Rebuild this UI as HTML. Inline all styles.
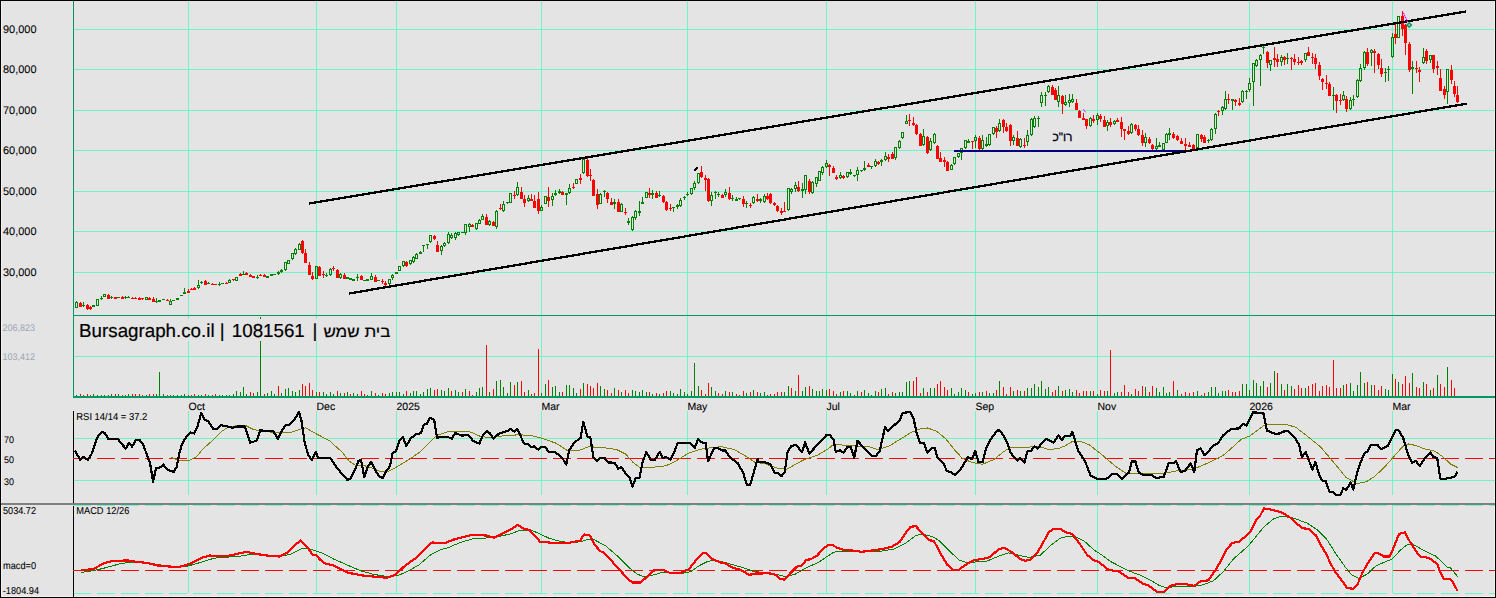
<!DOCTYPE html>
<html><head><meta charset="utf-8"><title>chart</title>
<style>html,body{margin:0;padding:0;background:#E4E4E4;overflow:hidden}body{width:1496px;height:598px;font-family:"Liberation Sans",sans-serif}</style>
</head><body>
<svg width="1496" height="598" viewBox="0 0 1496 598" shape-rendering="crispEdges" style="display:block;font-family:'Liberation Sans',sans-serif">
<rect x="0" y="0" width="1496" height="598" fill="#E4E4E4"/>
<rect x="1" y="1" width="1" height="596" fill="#F2F2F2"/>
<rect x="1494" y="1" width="1" height="596" fill="#F2F2F2"/>
<rect x="1" y="596" width="1494" height="1" fill="#F2F2F2"/>
<rect x="74" y="29" width="1421" height="1" fill="#6CF8C6"/>
<rect x="74" y="69" width="1421" height="1" fill="#6CF8C6"/>
<rect x="74" y="110" width="1421" height="1" fill="#6CF8C6"/>
<rect x="74" y="150" width="1421" height="1" fill="#6CF8C6"/>
<rect x="74" y="191" width="1421" height="1" fill="#6CF8C6"/>
<rect x="74" y="231" width="1421" height="1" fill="#6CF8C6"/>
<rect x="74" y="272" width="1421" height="1" fill="#6CF8C6"/>
<rect x="74" y="356" width="1421" height="1" fill="#6CF8C6"/>
<rect x="188" y="1" width="1" height="395" fill="#6CF8C6"/>
<rect x="188" y="411" width="1" height="84" fill="#6CF8C6"/>
<rect x="188" y="505" width="1" height="88" fill="#6CF8C6"/>
<rect x="316" y="1" width="1" height="395" fill="#6CF8C6"/>
<rect x="316" y="411" width="1" height="84" fill="#6CF8C6"/>
<rect x="316" y="505" width="1" height="88" fill="#6CF8C6"/>
<rect x="396" y="1" width="1" height="259" fill="#6CF8C6"/>
<rect x="396" y="285" width="1" height="111" fill="#6CF8C6"/>
<rect x="396" y="411" width="1" height="84" fill="#6CF8C6"/>
<rect x="396" y="505" width="1" height="88" fill="#6CF8C6"/>
<rect x="541" y="1" width="1" height="395" fill="#6CF8C6"/>
<rect x="541" y="411" width="1" height="84" fill="#6CF8C6"/>
<rect x="541" y="505" width="1" height="88" fill="#6CF8C6"/>
<rect x="687" y="1" width="1" height="395" fill="#6CF8C6"/>
<rect x="687" y="411" width="1" height="84" fill="#6CF8C6"/>
<rect x="687" y="505" width="1" height="88" fill="#6CF8C6"/>
<rect x="826" y="1" width="1" height="395" fill="#6CF8C6"/>
<rect x="826" y="411" width="1" height="84" fill="#6CF8C6"/>
<rect x="826" y="505" width="1" height="88" fill="#6CF8C6"/>
<rect x="975" y="1" width="1" height="395" fill="#6CF8C6"/>
<rect x="975" y="411" width="1" height="84" fill="#6CF8C6"/>
<rect x="975" y="505" width="1" height="88" fill="#6CF8C6"/>
<rect x="1097" y="1" width="1" height="395" fill="#6CF8C6"/>
<rect x="1097" y="411" width="1" height="84" fill="#6CF8C6"/>
<rect x="1097" y="505" width="1" height="88" fill="#6CF8C6"/>
<rect x="1249" y="1" width="1" height="77" fill="#6CF8C6"/>
<rect x="1249" y="103" width="1" height="293" fill="#6CF8C6"/>
<rect x="1249" y="411" width="1" height="84" fill="#6CF8C6"/>
<rect x="1249" y="505" width="1" height="88" fill="#6CF8C6"/>
<rect x="1392" y="1" width="1" height="395" fill="#6CF8C6"/>
<rect x="1392" y="411" width="1" height="84" fill="#6CF8C6"/>
<rect x="1392" y="505" width="1" height="88" fill="#6CF8C6"/>
<rect x="74" y="438" width="1421" height="1" fill="#6CF8C6"/>
<rect x="74" y="480" width="1421" height="1" fill="#6CF8C6"/>
<rect x="73" y="505" width="18" height="1" fill="#6CF8C6"/>
<rect x="97" y="505" width="18" height="1" fill="#6CF8C6"/>
<rect x="121" y="505" width="18" height="1" fill="#6CF8C6"/>
<rect x="145" y="505" width="18" height="1" fill="#6CF8C6"/>
<rect x="169" y="505" width="18" height="1" fill="#6CF8C6"/>
<rect x="193" y="505" width="18" height="1" fill="#6CF8C6"/>
<rect x="217" y="505" width="18" height="1" fill="#6CF8C6"/>
<rect x="241" y="505" width="18" height="1" fill="#6CF8C6"/>
<rect x="265" y="505" width="18" height="1" fill="#6CF8C6"/>
<rect x="289" y="505" width="18" height="1" fill="#6CF8C6"/>
<rect x="313" y="505" width="18" height="1" fill="#6CF8C6"/>
<rect x="337" y="505" width="18" height="1" fill="#6CF8C6"/>
<rect x="361" y="505" width="18" height="1" fill="#6CF8C6"/>
<rect x="385" y="505" width="18" height="1" fill="#6CF8C6"/>
<rect x="409" y="505" width="18" height="1" fill="#6CF8C6"/>
<rect x="433" y="505" width="18" height="1" fill="#6CF8C6"/>
<rect x="457" y="505" width="18" height="1" fill="#6CF8C6"/>
<rect x="481" y="505" width="18" height="1" fill="#6CF8C6"/>
<rect x="505" y="505" width="18" height="1" fill="#6CF8C6"/>
<rect x="529" y="505" width="18" height="1" fill="#6CF8C6"/>
<rect x="553" y="505" width="18" height="1" fill="#6CF8C6"/>
<rect x="577" y="505" width="18" height="1" fill="#6CF8C6"/>
<rect x="601" y="505" width="18" height="1" fill="#6CF8C6"/>
<rect x="625" y="505" width="18" height="1" fill="#6CF8C6"/>
<rect x="649" y="505" width="18" height="1" fill="#6CF8C6"/>
<rect x="673" y="505" width="18" height="1" fill="#6CF8C6"/>
<rect x="697" y="505" width="18" height="1" fill="#6CF8C6"/>
<rect x="721" y="505" width="18" height="1" fill="#6CF8C6"/>
<rect x="745" y="505" width="18" height="1" fill="#6CF8C6"/>
<rect x="769" y="505" width="18" height="1" fill="#6CF8C6"/>
<rect x="793" y="505" width="18" height="1" fill="#6CF8C6"/>
<rect x="817" y="505" width="18" height="1" fill="#6CF8C6"/>
<rect x="841" y="505" width="18" height="1" fill="#6CF8C6"/>
<rect x="865" y="505" width="18" height="1" fill="#6CF8C6"/>
<rect x="889" y="505" width="18" height="1" fill="#6CF8C6"/>
<rect x="913" y="505" width="18" height="1" fill="#6CF8C6"/>
<rect x="937" y="505" width="18" height="1" fill="#6CF8C6"/>
<rect x="961" y="505" width="18" height="1" fill="#6CF8C6"/>
<rect x="985" y="505" width="18" height="1" fill="#6CF8C6"/>
<rect x="1009" y="505" width="18" height="1" fill="#6CF8C6"/>
<rect x="1033" y="505" width="18" height="1" fill="#6CF8C6"/>
<rect x="1057" y="505" width="18" height="1" fill="#6CF8C6"/>
<rect x="1081" y="505" width="18" height="1" fill="#6CF8C6"/>
<rect x="1105" y="505" width="18" height="1" fill="#6CF8C6"/>
<rect x="1129" y="505" width="18" height="1" fill="#6CF8C6"/>
<rect x="1153" y="505" width="18" height="1" fill="#6CF8C6"/>
<rect x="1177" y="505" width="18" height="1" fill="#6CF8C6"/>
<rect x="1201" y="505" width="18" height="1" fill="#6CF8C6"/>
<rect x="1225" y="505" width="18" height="1" fill="#6CF8C6"/>
<rect x="1249" y="505" width="18" height="1" fill="#6CF8C6"/>
<rect x="1273" y="505" width="18" height="1" fill="#6CF8C6"/>
<rect x="1297" y="505" width="18" height="1" fill="#6CF8C6"/>
<rect x="1321" y="505" width="18" height="1" fill="#6CF8C6"/>
<rect x="1345" y="505" width="18" height="1" fill="#6CF8C6"/>
<rect x="1369" y="505" width="18" height="1" fill="#6CF8C6"/>
<rect x="1393" y="505" width="18" height="1" fill="#6CF8C6"/>
<rect x="1417" y="505" width="18" height="1" fill="#6CF8C6"/>
<rect x="1441" y="505" width="18" height="1" fill="#6CF8C6"/>
<rect x="1465" y="505" width="18" height="1" fill="#6CF8C6"/>
<rect x="1489" y="505" width="6" height="1" fill="#6CF8C6"/>
<rect x="73" y="593" width="18" height="1" fill="#6CF8C6"/>
<rect x="97" y="593" width="18" height="1" fill="#6CF8C6"/>
<rect x="121" y="593" width="18" height="1" fill="#6CF8C6"/>
<rect x="145" y="593" width="18" height="1" fill="#6CF8C6"/>
<rect x="169" y="593" width="18" height="1" fill="#6CF8C6"/>
<rect x="193" y="593" width="18" height="1" fill="#6CF8C6"/>
<rect x="217" y="593" width="18" height="1" fill="#6CF8C6"/>
<rect x="241" y="593" width="18" height="1" fill="#6CF8C6"/>
<rect x="265" y="593" width="18" height="1" fill="#6CF8C6"/>
<rect x="289" y="593" width="18" height="1" fill="#6CF8C6"/>
<rect x="313" y="593" width="18" height="1" fill="#6CF8C6"/>
<rect x="337" y="593" width="18" height="1" fill="#6CF8C6"/>
<rect x="361" y="593" width="18" height="1" fill="#6CF8C6"/>
<rect x="385" y="593" width="18" height="1" fill="#6CF8C6"/>
<rect x="409" y="593" width="18" height="1" fill="#6CF8C6"/>
<rect x="433" y="593" width="18" height="1" fill="#6CF8C6"/>
<rect x="457" y="593" width="18" height="1" fill="#6CF8C6"/>
<rect x="481" y="593" width="18" height="1" fill="#6CF8C6"/>
<rect x="505" y="593" width="18" height="1" fill="#6CF8C6"/>
<rect x="529" y="593" width="18" height="1" fill="#6CF8C6"/>
<rect x="553" y="593" width="18" height="1" fill="#6CF8C6"/>
<rect x="577" y="593" width="18" height="1" fill="#6CF8C6"/>
<rect x="601" y="593" width="18" height="1" fill="#6CF8C6"/>
<rect x="625" y="593" width="18" height="1" fill="#6CF8C6"/>
<rect x="649" y="593" width="18" height="1" fill="#6CF8C6"/>
<rect x="673" y="593" width="18" height="1" fill="#6CF8C6"/>
<rect x="697" y="593" width="18" height="1" fill="#6CF8C6"/>
<rect x="721" y="593" width="18" height="1" fill="#6CF8C6"/>
<rect x="745" y="593" width="18" height="1" fill="#6CF8C6"/>
<rect x="769" y="593" width="18" height="1" fill="#6CF8C6"/>
<rect x="793" y="593" width="18" height="1" fill="#6CF8C6"/>
<rect x="817" y="593" width="18" height="1" fill="#6CF8C6"/>
<rect x="841" y="593" width="18" height="1" fill="#6CF8C6"/>
<rect x="865" y="593" width="18" height="1" fill="#6CF8C6"/>
<rect x="889" y="593" width="18" height="1" fill="#6CF8C6"/>
<rect x="913" y="593" width="18" height="1" fill="#6CF8C6"/>
<rect x="937" y="593" width="18" height="1" fill="#6CF8C6"/>
<rect x="961" y="593" width="18" height="1" fill="#6CF8C6"/>
<rect x="985" y="593" width="18" height="1" fill="#6CF8C6"/>
<rect x="1009" y="593" width="18" height="1" fill="#6CF8C6"/>
<rect x="1033" y="593" width="18" height="1" fill="#6CF8C6"/>
<rect x="1057" y="593" width="18" height="1" fill="#6CF8C6"/>
<rect x="1081" y="593" width="18" height="1" fill="#6CF8C6"/>
<rect x="1105" y="593" width="18" height="1" fill="#6CF8C6"/>
<rect x="1129" y="593" width="18" height="1" fill="#6CF8C6"/>
<rect x="1153" y="593" width="18" height="1" fill="#6CF8C6"/>
<rect x="1177" y="593" width="18" height="1" fill="#6CF8C6"/>
<rect x="1201" y="593" width="18" height="1" fill="#6CF8C6"/>
<rect x="1225" y="593" width="18" height="1" fill="#6CF8C6"/>
<rect x="1249" y="593" width="18" height="1" fill="#6CF8C6"/>
<rect x="1273" y="593" width="18" height="1" fill="#6CF8C6"/>
<rect x="1297" y="593" width="18" height="1" fill="#6CF8C6"/>
<rect x="1321" y="593" width="18" height="1" fill="#6CF8C6"/>
<rect x="1345" y="593" width="18" height="1" fill="#6CF8C6"/>
<rect x="1369" y="593" width="18" height="1" fill="#6CF8C6"/>
<rect x="1393" y="593" width="18" height="1" fill="#6CF8C6"/>
<rect x="1417" y="593" width="18" height="1" fill="#6CF8C6"/>
<rect x="1441" y="593" width="18" height="1" fill="#6CF8C6"/>
<rect x="1465" y="593" width="18" height="1" fill="#6CF8C6"/>
<rect x="1489" y="593" width="6" height="1" fill="#6CF8C6"/>
<rect x="73" y="1" width="1" height="396" fill="#009966"/>
<rect x="73" y="315" width="1422" height="1" fill="#009966"/>
<rect x="73" y="396" width="1422" height="2" fill="#009966"/>
<rect x="1" y="503" width="1494" height="2" fill="#808080"/>
<rect x="73" y="411" width="1" height="92" fill="#000"/>
<rect x="73" y="506" width="1" height="91" fill="#000"/>
<rect x="75" y="319" width="317" height="22" fill="#E4E4E4"/>
<rect x="76" y="301" width="1" height="1" fill="#008000"/>
<rect x="75" y="302" width="1" height="6" fill="#008000"/>
<rect x="77" y="302" width="1" height="6" fill="#008000"/>
<rect x="76" y="302" width="1" height="1" fill="#008000"/>
<rect x="76" y="307" width="1" height="1" fill="#008000"/>
<rect x="80" y="302" width="1" height="1" fill="#FF0000"/>
<rect x="79" y="303" width="3" height="4" fill="#FF0000"/>
<rect x="83" y="302" width="1" height="3" fill="#008000"/>
<rect x="83" y="306" width="1" height="1" fill="#008000"/>
<rect x="82" y="305" width="3" height="1" fill="#008000"/>
<rect x="87" y="304" width="1" height="1" fill="#FF0000"/>
<rect x="87" y="309" width="1" height="1" fill="#FF0000"/>
<rect x="86" y="305" width="3" height="4" fill="#FF0000"/>
<rect x="90" y="306" width="1" height="1" fill="#FF0000"/>
<rect x="90" y="309" width="1" height="1" fill="#FF0000"/>
<rect x="89" y="307" width="3" height="2" fill="#FF0000"/>
<rect x="92" y="305" width="3" height="2" fill="#008000"/>
<rect x="96" y="299" width="1" height="7" fill="#008000"/>
<rect x="98" y="299" width="1" height="7" fill="#008000"/>
<rect x="97" y="299" width="1" height="1" fill="#008000"/>
<rect x="97" y="305" width="1" height="1" fill="#008000"/>
<rect x="101" y="296" width="1" height="2" fill="#008000"/>
<rect x="101" y="299" width="1" height="1" fill="#008000"/>
<rect x="100" y="298" width="3" height="1" fill="#008000"/>
<rect x="103" y="294" width="1" height="3" fill="#008000"/>
<rect x="105" y="294" width="1" height="3" fill="#008000"/>
<rect x="104" y="294" width="1" height="1" fill="#008000"/>
<rect x="104" y="296" width="1" height="1" fill="#008000"/>
<rect x="108" y="294" width="1" height="1" fill="#FF0000"/>
<rect x="107" y="295" width="3" height="4" fill="#FF0000"/>
<rect x="111" y="296" width="1" height="1" fill="#008000"/>
<rect x="111" y="298" width="1" height="1" fill="#008000"/>
<rect x="110" y="297" width="3" height="1" fill="#008000"/>
<rect x="114" y="297" width="3" height="2" fill="#FF0000"/>
<rect x="117" y="297" width="3" height="1" fill="#008000"/>
<rect x="122" y="296" width="1" height="1" fill="#FF0000"/>
<rect x="121" y="297" width="3" height="2" fill="#FF0000"/>
<rect x="125" y="296" width="1" height="1" fill="#008000"/>
<rect x="125" y="298" width="1" height="1" fill="#008000"/>
<rect x="124" y="297" width="3" height="1" fill="#008000"/>
<rect x="128" y="296" width="1" height="1" fill="#008000"/>
<rect x="127" y="297" width="3" height="1" fill="#008000"/>
<rect x="132" y="297" width="1" height="1" fill="#FF0000"/>
<rect x="131" y="298" width="3" height="1" fill="#FF0000"/>
<rect x="135" y="297" width="1" height="1" fill="#FF0000"/>
<rect x="134" y="298" width="3" height="1" fill="#FF0000"/>
<rect x="139" y="297" width="1" height="1" fill="#FF0000"/>
<rect x="138" y="298" width="3" height="2" fill="#FF0000"/>
<rect x="142" y="299" width="1" height="1" fill="#FF0000"/>
<rect x="141" y="298" width="3" height="1" fill="#FF0000"/>
<rect x="145" y="297" width="1" height="3" fill="#008000"/>
<rect x="147" y="297" width="1" height="3" fill="#008000"/>
<rect x="146" y="297" width="1" height="1" fill="#008000"/>
<rect x="146" y="299" width="1" height="1" fill="#008000"/>
<rect x="149" y="297" width="1" height="1" fill="#FF0000"/>
<rect x="148" y="298" width="3" height="2" fill="#FF0000"/>
<rect x="153" y="297" width="1" height="2" fill="#FF0000"/>
<rect x="152" y="299" width="3" height="3" fill="#FF0000"/>
<rect x="156" y="298" width="1" height="3" fill="#008000"/>
<rect x="156" y="302" width="1" height="1" fill="#008000"/>
<rect x="155" y="301" width="3" height="1" fill="#008000"/>
<rect x="158" y="300" width="3" height="2" fill="#008000"/>
<rect x="162" y="299" width="3" height="1" fill="#008000"/>
<rect x="167" y="299" width="1" height="1" fill="#FF0000"/>
<rect x="166" y="300" width="3" height="1" fill="#FF0000"/>
<rect x="170" y="299" width="1" height="2" fill="#008000"/>
<rect x="169" y="301" width="1" height="4" fill="#008000"/>
<rect x="171" y="301" width="1" height="4" fill="#008000"/>
<rect x="170" y="301" width="1" height="1" fill="#008000"/>
<rect x="170" y="304" width="1" height="1" fill="#008000"/>
<rect x="172" y="300" width="3" height="1" fill="#008000"/>
<rect x="176" y="298" width="3" height="2" fill="#008000"/>
<rect x="180" y="295" width="3" height="1" fill="#008000"/>
<rect x="184" y="288" width="1" height="4" fill="#008000"/>
<rect x="183" y="292" width="3" height="2" fill="#008000"/>
<rect x="188" y="289" width="1" height="2" fill="#FF0000"/>
<rect x="187" y="291" width="3" height="2" fill="#FF0000"/>
<rect x="191" y="288" width="1" height="1" fill="#FF0000"/>
<rect x="190" y="289" width="3" height="1" fill="#FF0000"/>
<rect x="194" y="287" width="1" height="1" fill="#FF0000"/>
<rect x="193" y="288" width="3" height="2" fill="#FF0000"/>
<rect x="198" y="280" width="1" height="5" fill="#008000"/>
<rect x="198" y="288" width="1" height="1" fill="#008000"/>
<rect x="197" y="285" width="1" height="3" fill="#008000"/>
<rect x="199" y="285" width="1" height="3" fill="#008000"/>
<rect x="198" y="285" width="1" height="1" fill="#008000"/>
<rect x="198" y="287" width="1" height="1" fill="#008000"/>
<rect x="201" y="281" width="1" height="1" fill="#008000"/>
<rect x="201" y="283" width="1" height="1" fill="#008000"/>
<rect x="200" y="282" width="3" height="1" fill="#008000"/>
<rect x="205" y="280" width="1" height="1" fill="#FF0000"/>
<rect x="204" y="281" width="3" height="4" fill="#FF0000"/>
<rect x="208" y="282" width="1" height="1" fill="#008000"/>
<rect x="207" y="283" width="3" height="1" fill="#008000"/>
<rect x="212" y="283" width="1" height="1" fill="#FF0000"/>
<rect x="211" y="284" width="3" height="1" fill="#FF0000"/>
<rect x="214" y="284" width="3" height="1" fill="#FF0000"/>
<rect x="219" y="282" width="1" height="2" fill="#008000"/>
<rect x="219" y="285" width="1" height="1" fill="#008000"/>
<rect x="218" y="284" width="3" height="1" fill="#008000"/>
<rect x="221" y="283" width="3" height="1" fill="#008000"/>
<rect x="226" y="282" width="1" height="1" fill="#FF0000"/>
<rect x="225" y="283" width="3" height="1" fill="#FF0000"/>
<rect x="229" y="279" width="1" height="1" fill="#008000"/>
<rect x="228" y="280" width="1" height="3" fill="#008000"/>
<rect x="230" y="280" width="1" height="3" fill="#008000"/>
<rect x="229" y="280" width="1" height="1" fill="#008000"/>
<rect x="229" y="282" width="1" height="1" fill="#008000"/>
<rect x="233" y="280" width="1" height="1" fill="#FF0000"/>
<rect x="232" y="279" width="3" height="1" fill="#FF0000"/>
<rect x="235" y="277" width="1" height="4" fill="#008000"/>
<rect x="237" y="277" width="1" height="4" fill="#008000"/>
<rect x="236" y="277" width="1" height="1" fill="#008000"/>
<rect x="236" y="280" width="1" height="1" fill="#008000"/>
<rect x="240" y="273" width="1" height="1" fill="#FF0000"/>
<rect x="239" y="274" width="3" height="2" fill="#FF0000"/>
<rect x="243" y="271" width="1" height="3" fill="#008000"/>
<rect x="242" y="274" width="3" height="1" fill="#008000"/>
<rect x="246" y="272" width="1" height="1" fill="#FF0000"/>
<rect x="245" y="273" width="3" height="2" fill="#FF0000"/>
<rect x="250" y="274" width="1" height="1" fill="#FF0000"/>
<rect x="249" y="275" width="3" height="2" fill="#FF0000"/>
<rect x="252" y="276" width="3" height="2" fill="#FF0000"/>
<rect x="257" y="275" width="1" height="2" fill="#008000"/>
<rect x="257" y="278" width="1" height="1" fill="#008000"/>
<rect x="256" y="277" width="3" height="1" fill="#008000"/>
<rect x="260" y="274" width="1" height="1" fill="#FF0000"/>
<rect x="259" y="275" width="3" height="1" fill="#FF0000"/>
<rect x="264" y="274" width="1" height="1" fill="#FF0000"/>
<rect x="263" y="275" width="3" height="2" fill="#FF0000"/>
<rect x="266" y="276" width="3" height="2" fill="#008000"/>
<rect x="270" y="274" width="3" height="2" fill="#008000"/>
<rect x="273" y="274" width="3" height="1" fill="#008000"/>
<rect x="278" y="271" width="1" height="1" fill="#008000"/>
<rect x="278" y="274" width="1" height="1" fill="#008000"/>
<rect x="277" y="272" width="3" height="2" fill="#008000"/>
<rect x="281" y="269" width="1" height="1" fill="#008000"/>
<rect x="281" y="272" width="1" height="1" fill="#008000"/>
<rect x="280" y="270" width="3" height="2" fill="#008000"/>
<rect x="285" y="270" width="1" height="1" fill="#008000"/>
<rect x="284" y="262" width="1" height="8" fill="#008000"/>
<rect x="286" y="262" width="1" height="8" fill="#008000"/>
<rect x="285" y="262" width="1" height="1" fill="#008000"/>
<rect x="285" y="269" width="1" height="1" fill="#008000"/>
<rect x="287" y="260" width="1" height="4" fill="#008000"/>
<rect x="289" y="260" width="1" height="4" fill="#008000"/>
<rect x="288" y="260" width="1" height="1" fill="#008000"/>
<rect x="288" y="263" width="1" height="1" fill="#008000"/>
<rect x="292" y="259" width="1" height="1" fill="#008000"/>
<rect x="291" y="253" width="1" height="6" fill="#008000"/>
<rect x="293" y="253" width="1" height="6" fill="#008000"/>
<rect x="292" y="253" width="1" height="1" fill="#008000"/>
<rect x="292" y="258" width="1" height="1" fill="#008000"/>
<rect x="295" y="248" width="1" height="1" fill="#008000"/>
<rect x="295" y="254" width="1" height="1" fill="#008000"/>
<rect x="294" y="249" width="1" height="5" fill="#008000"/>
<rect x="296" y="249" width="1" height="5" fill="#008000"/>
<rect x="295" y="249" width="1" height="1" fill="#008000"/>
<rect x="295" y="253" width="1" height="1" fill="#008000"/>
<rect x="299" y="243" width="1" height="1" fill="#008000"/>
<rect x="298" y="244" width="1" height="6" fill="#008000"/>
<rect x="300" y="244" width="1" height="6" fill="#008000"/>
<rect x="299" y="244" width="1" height="1" fill="#008000"/>
<rect x="299" y="249" width="1" height="1" fill="#008000"/>
<rect x="302" y="240" width="1" height="1" fill="#FF0000"/>
<rect x="302" y="253" width="1" height="1" fill="#FF0000"/>
<rect x="301" y="241" width="3" height="12" fill="#FF0000"/>
<rect x="305" y="249" width="1" height="4" fill="#FF0000"/>
<rect x="304" y="253" width="3" height="10" fill="#FF0000"/>
<rect x="309" y="262" width="1" height="3" fill="#FF0000"/>
<rect x="308" y="265" width="3" height="10" fill="#FF0000"/>
<rect x="312" y="272" width="1" height="4" fill="#FF0000"/>
<rect x="312" y="279" width="1" height="1" fill="#FF0000"/>
<rect x="311" y="276" width="3" height="3" fill="#FF0000"/>
<rect x="315" y="266" width="1" height="13" fill="#008000"/>
<rect x="317" y="266" width="1" height="13" fill="#008000"/>
<rect x="316" y="266" width="1" height="1" fill="#008000"/>
<rect x="316" y="278" width="1" height="1" fill="#008000"/>
<rect x="319" y="266" width="1" height="1" fill="#FF0000"/>
<rect x="318" y="267" width="3" height="9" fill="#FF0000"/>
<rect x="323" y="271" width="1" height="3" fill="#FF0000"/>
<rect x="323" y="275" width="1" height="3" fill="#FF0000"/>
<rect x="322" y="274" width="3" height="1" fill="#FF0000"/>
<rect x="326" y="273" width="1" height="2" fill="#008000"/>
<rect x="326" y="276" width="1" height="1" fill="#008000"/>
<rect x="325" y="275" width="3" height="1" fill="#008000"/>
<rect x="330" y="268" width="1" height="1" fill="#008000"/>
<rect x="330" y="275" width="1" height="1" fill="#008000"/>
<rect x="329" y="269" width="1" height="6" fill="#008000"/>
<rect x="331" y="269" width="1" height="6" fill="#008000"/>
<rect x="330" y="269" width="1" height="1" fill="#008000"/>
<rect x="330" y="274" width="1" height="1" fill="#008000"/>
<rect x="333" y="266" width="1" height="2" fill="#FF0000"/>
<rect x="333" y="269" width="1" height="2" fill="#FF0000"/>
<rect x="332" y="268" width="3" height="1" fill="#FF0000"/>
<rect x="337" y="269" width="1" height="1" fill="#FF0000"/>
<rect x="336" y="270" width="3" height="8" fill="#FF0000"/>
<rect x="340" y="273" width="1" height="1" fill="#008000"/>
<rect x="340" y="278" width="1" height="1" fill="#008000"/>
<rect x="339" y="274" width="1" height="4" fill="#008000"/>
<rect x="341" y="274" width="1" height="4" fill="#008000"/>
<rect x="340" y="274" width="1" height="1" fill="#008000"/>
<rect x="340" y="277" width="1" height="1" fill="#008000"/>
<rect x="344" y="273" width="1" height="2" fill="#FF0000"/>
<rect x="343" y="275" width="3" height="4" fill="#FF0000"/>
<rect x="346" y="277" width="3" height="2" fill="#008000"/>
<rect x="349" y="278" width="3" height="2" fill="#008000"/>
<rect x="352" y="279" width="3" height="2" fill="#008000"/>
<rect x="357" y="274" width="1" height="3" fill="#008000"/>
<rect x="357" y="278" width="1" height="3" fill="#008000"/>
<rect x="356" y="277" width="3" height="1" fill="#008000"/>
<rect x="361" y="275" width="1" height="1" fill="#FF0000"/>
<rect x="360" y="276" width="3" height="4" fill="#FF0000"/>
<rect x="363" y="280" width="3" height="1" fill="#008000"/>
<rect x="366" y="279" width="3" height="2" fill="#008000"/>
<rect x="371" y="273" width="1" height="3" fill="#008000"/>
<rect x="370" y="276" width="1" height="4" fill="#008000"/>
<rect x="372" y="276" width="1" height="4" fill="#008000"/>
<rect x="371" y="276" width="1" height="1" fill="#008000"/>
<rect x="371" y="279" width="1" height="1" fill="#008000"/>
<rect x="375" y="275" width="1" height="2" fill="#FF0000"/>
<rect x="374" y="277" width="3" height="5" fill="#FF0000"/>
<rect x="377" y="280" width="3" height="1" fill="#008000"/>
<rect x="382" y="279" width="1" height="2" fill="#FF0000"/>
<rect x="382" y="282" width="1" height="2" fill="#FF0000"/>
<rect x="381" y="281" width="3" height="1" fill="#FF0000"/>
<rect x="385" y="281" width="1" height="2" fill="#FF0000"/>
<rect x="385" y="285" width="1" height="1" fill="#FF0000"/>
<rect x="384" y="283" width="3" height="2" fill="#FF0000"/>
<rect x="389" y="284" width="1" height="1" fill="#008000"/>
<rect x="388" y="279" width="1" height="5" fill="#008000"/>
<rect x="390" y="279" width="1" height="5" fill="#008000"/>
<rect x="389" y="279" width="1" height="1" fill="#008000"/>
<rect x="389" y="283" width="1" height="1" fill="#008000"/>
<rect x="392" y="274" width="1" height="1" fill="#008000"/>
<rect x="392" y="278" width="1" height="2" fill="#008000"/>
<rect x="391" y="275" width="1" height="3" fill="#008000"/>
<rect x="393" y="275" width="1" height="3" fill="#008000"/>
<rect x="392" y="275" width="1" height="1" fill="#008000"/>
<rect x="392" y="277" width="1" height="1" fill="#008000"/>
<rect x="395" y="272" width="3" height="2" fill="#008000"/>
<rect x="398" y="266" width="1" height="5" fill="#008000"/>
<rect x="400" y="266" width="1" height="5" fill="#008000"/>
<rect x="399" y="266" width="1" height="1" fill="#008000"/>
<rect x="399" y="270" width="1" height="1" fill="#008000"/>
<rect x="403" y="266" width="1" height="1" fill="#008000"/>
<rect x="402" y="261" width="1" height="5" fill="#008000"/>
<rect x="404" y="261" width="1" height="5" fill="#008000"/>
<rect x="403" y="261" width="1" height="1" fill="#008000"/>
<rect x="403" y="265" width="1" height="1" fill="#008000"/>
<rect x="406" y="261" width="1" height="1" fill="#FF0000"/>
<rect x="406" y="266" width="1" height="1" fill="#FF0000"/>
<rect x="405" y="262" width="3" height="4" fill="#FF0000"/>
<rect x="410" y="264" width="1" height="1" fill="#008000"/>
<rect x="409" y="260" width="1" height="4" fill="#008000"/>
<rect x="411" y="260" width="1" height="4" fill="#008000"/>
<rect x="410" y="260" width="1" height="1" fill="#008000"/>
<rect x="410" y="263" width="1" height="1" fill="#008000"/>
<rect x="413" y="256" width="1" height="1" fill="#008000"/>
<rect x="413" y="262" width="1" height="1" fill="#008000"/>
<rect x="412" y="257" width="1" height="5" fill="#008000"/>
<rect x="414" y="257" width="1" height="5" fill="#008000"/>
<rect x="413" y="257" width="1" height="1" fill="#008000"/>
<rect x="413" y="261" width="1" height="1" fill="#008000"/>
<rect x="416" y="253" width="1" height="1" fill="#008000"/>
<rect x="415" y="254" width="1" height="5" fill="#008000"/>
<rect x="417" y="254" width="1" height="5" fill="#008000"/>
<rect x="416" y="254" width="1" height="1" fill="#008000"/>
<rect x="416" y="258" width="1" height="1" fill="#008000"/>
<rect x="420" y="251" width="1" height="1" fill="#008000"/>
<rect x="419" y="252" width="3" height="2" fill="#008000"/>
<rect x="423" y="246" width="1" height="6" fill="#008000"/>
<rect x="422" y="245" width="3" height="1" fill="#008000"/>
<rect x="427" y="245" width="1" height="4" fill="#008000"/>
<rect x="426" y="244" width="3" height="1" fill="#008000"/>
<rect x="430" y="242" width="1" height="1" fill="#008000"/>
<rect x="429" y="235" width="1" height="7" fill="#008000"/>
<rect x="431" y="235" width="1" height="7" fill="#008000"/>
<rect x="430" y="235" width="1" height="1" fill="#008000"/>
<rect x="430" y="241" width="1" height="1" fill="#008000"/>
<rect x="434" y="235" width="1" height="1" fill="#FF0000"/>
<rect x="434" y="239" width="1" height="1" fill="#FF0000"/>
<rect x="433" y="236" width="3" height="3" fill="#FF0000"/>
<rect x="437" y="241" width="1" height="4" fill="#FF0000"/>
<rect x="436" y="245" width="3" height="7" fill="#FF0000"/>
<rect x="441" y="245" width="1" height="1" fill="#008000"/>
<rect x="441" y="251" width="1" height="4" fill="#008000"/>
<rect x="440" y="246" width="1" height="5" fill="#008000"/>
<rect x="442" y="246" width="1" height="5" fill="#008000"/>
<rect x="441" y="246" width="1" height="1" fill="#008000"/>
<rect x="441" y="250" width="1" height="1" fill="#008000"/>
<rect x="444" y="242" width="1" height="1" fill="#008000"/>
<rect x="444" y="246" width="1" height="1" fill="#008000"/>
<rect x="443" y="243" width="1" height="3" fill="#008000"/>
<rect x="445" y="243" width="1" height="3" fill="#008000"/>
<rect x="444" y="243" width="1" height="1" fill="#008000"/>
<rect x="444" y="245" width="1" height="1" fill="#008000"/>
<rect x="448" y="232" width="1" height="2" fill="#008000"/>
<rect x="448" y="243" width="1" height="1" fill="#008000"/>
<rect x="447" y="234" width="1" height="9" fill="#008000"/>
<rect x="449" y="234" width="1" height="9" fill="#008000"/>
<rect x="448" y="234" width="1" height="1" fill="#008000"/>
<rect x="448" y="242" width="1" height="1" fill="#008000"/>
<rect x="451" y="233" width="1" height="2" fill="#008000"/>
<rect x="451" y="238" width="1" height="1" fill="#008000"/>
<rect x="450" y="235" width="1" height="3" fill="#008000"/>
<rect x="452" y="235" width="1" height="3" fill="#008000"/>
<rect x="451" y="235" width="1" height="1" fill="#008000"/>
<rect x="451" y="237" width="1" height="1" fill="#008000"/>
<rect x="455" y="232" width="1" height="1" fill="#008000"/>
<rect x="455" y="238" width="1" height="2" fill="#008000"/>
<rect x="454" y="233" width="1" height="5" fill="#008000"/>
<rect x="456" y="233" width="1" height="5" fill="#008000"/>
<rect x="455" y="233" width="1" height="1" fill="#008000"/>
<rect x="455" y="237" width="1" height="1" fill="#008000"/>
<rect x="458" y="235" width="1" height="1" fill="#008000"/>
<rect x="457" y="232" width="1" height="3" fill="#008000"/>
<rect x="459" y="232" width="1" height="3" fill="#008000"/>
<rect x="458" y="232" width="1" height="1" fill="#008000"/>
<rect x="458" y="234" width="1" height="1" fill="#008000"/>
<rect x="461" y="232" width="3" height="1" fill="#008000"/>
<rect x="465" y="233" width="1" height="2" fill="#008000"/>
<rect x="464" y="224" width="1" height="9" fill="#008000"/>
<rect x="466" y="224" width="1" height="9" fill="#008000"/>
<rect x="465" y="224" width="1" height="1" fill="#008000"/>
<rect x="465" y="232" width="1" height="1" fill="#008000"/>
<rect x="469" y="223" width="1" height="1" fill="#008000"/>
<rect x="469" y="227" width="1" height="5" fill="#008000"/>
<rect x="468" y="224" width="1" height="3" fill="#008000"/>
<rect x="470" y="224" width="1" height="3" fill="#008000"/>
<rect x="469" y="224" width="1" height="1" fill="#008000"/>
<rect x="469" y="226" width="1" height="1" fill="#008000"/>
<rect x="472" y="224" width="1" height="1" fill="#FF0000"/>
<rect x="471" y="225" width="3" height="2" fill="#FF0000"/>
<rect x="476" y="229" width="1" height="1" fill="#008000"/>
<rect x="475" y="223" width="1" height="6" fill="#008000"/>
<rect x="477" y="223" width="1" height="6" fill="#008000"/>
<rect x="476" y="223" width="1" height="1" fill="#008000"/>
<rect x="476" y="228" width="1" height="1" fill="#008000"/>
<rect x="479" y="219" width="1" height="1" fill="#008000"/>
<rect x="478" y="220" width="1" height="4" fill="#008000"/>
<rect x="480" y="220" width="1" height="4" fill="#008000"/>
<rect x="479" y="220" width="1" height="1" fill="#008000"/>
<rect x="479" y="223" width="1" height="1" fill="#008000"/>
<rect x="482" y="214" width="1" height="2" fill="#008000"/>
<rect x="481" y="216" width="1" height="4" fill="#008000"/>
<rect x="483" y="216" width="1" height="4" fill="#008000"/>
<rect x="482" y="216" width="1" height="1" fill="#008000"/>
<rect x="482" y="219" width="1" height="1" fill="#008000"/>
<rect x="486" y="214" width="1" height="3" fill="#FF0000"/>
<rect x="485" y="217" width="3" height="8" fill="#FF0000"/>
<rect x="489" y="220" width="1" height="1" fill="#008000"/>
<rect x="489" y="225" width="1" height="1" fill="#008000"/>
<rect x="488" y="221" width="1" height="4" fill="#008000"/>
<rect x="490" y="221" width="1" height="4" fill="#008000"/>
<rect x="489" y="221" width="1" height="1" fill="#008000"/>
<rect x="489" y="224" width="1" height="1" fill="#008000"/>
<rect x="493" y="221" width="1" height="1" fill="#FF0000"/>
<rect x="492" y="222" width="3" height="4" fill="#FF0000"/>
<rect x="496" y="210" width="1" height="1" fill="#008000"/>
<rect x="496" y="227" width="1" height="2" fill="#008000"/>
<rect x="495" y="211" width="1" height="16" fill="#008000"/>
<rect x="497" y="211" width="1" height="16" fill="#008000"/>
<rect x="496" y="211" width="1" height="1" fill="#008000"/>
<rect x="496" y="226" width="1" height="1" fill="#008000"/>
<rect x="500" y="204" width="1" height="4" fill="#FF0000"/>
<rect x="500" y="209" width="1" height="1" fill="#FF0000"/>
<rect x="499" y="208" width="3" height="1" fill="#FF0000"/>
<rect x="503" y="201" width="1" height="3" fill="#008000"/>
<rect x="503" y="211" width="1" height="1" fill="#008000"/>
<rect x="502" y="204" width="1" height="7" fill="#008000"/>
<rect x="504" y="204" width="1" height="7" fill="#008000"/>
<rect x="503" y="204" width="1" height="1" fill="#008000"/>
<rect x="503" y="210" width="1" height="1" fill="#008000"/>
<rect x="507" y="203" width="1" height="1" fill="#008000"/>
<rect x="506" y="202" width="3" height="1" fill="#008000"/>
<rect x="509" y="193" width="1" height="10" fill="#008000"/>
<rect x="511" y="193" width="1" height="10" fill="#008000"/>
<rect x="510" y="193" width="1" height="1" fill="#008000"/>
<rect x="510" y="202" width="1" height="1" fill="#008000"/>
<rect x="514" y="191" width="1" height="4" fill="#FF0000"/>
<rect x="514" y="196" width="1" height="3" fill="#FF0000"/>
<rect x="513" y="195" width="3" height="1" fill="#FF0000"/>
<rect x="517" y="182" width="1" height="5" fill="#008000"/>
<rect x="517" y="195" width="1" height="1" fill="#008000"/>
<rect x="516" y="187" width="1" height="8" fill="#008000"/>
<rect x="518" y="187" width="1" height="8" fill="#008000"/>
<rect x="517" y="187" width="1" height="1" fill="#008000"/>
<rect x="517" y="194" width="1" height="1" fill="#008000"/>
<rect x="521" y="187" width="1" height="5" fill="#FF0000"/>
<rect x="520" y="192" width="3" height="7" fill="#FF0000"/>
<rect x="524" y="195" width="1" height="4" fill="#FF0000"/>
<rect x="524" y="203" width="1" height="4" fill="#FF0000"/>
<rect x="523" y="199" width="3" height="4" fill="#FF0000"/>
<rect x="528" y="195" width="1" height="3" fill="#008000"/>
<rect x="528" y="201" width="1" height="1" fill="#008000"/>
<rect x="527" y="198" width="1" height="3" fill="#008000"/>
<rect x="529" y="198" width="1" height="3" fill="#008000"/>
<rect x="528" y="198" width="1" height="1" fill="#008000"/>
<rect x="528" y="200" width="1" height="1" fill="#008000"/>
<rect x="531" y="194" width="1" height="5" fill="#FF0000"/>
<rect x="530" y="199" width="3" height="2" fill="#FF0000"/>
<rect x="534" y="195" width="1" height="6" fill="#FF0000"/>
<rect x="533" y="201" width="3" height="7" fill="#FF0000"/>
<rect x="538" y="192" width="1" height="7" fill="#FF0000"/>
<rect x="538" y="211" width="1" height="3" fill="#FF0000"/>
<rect x="537" y="199" width="3" height="12" fill="#FF0000"/>
<rect x="541" y="205" width="1" height="2" fill="#008000"/>
<rect x="540" y="207" width="1" height="4" fill="#008000"/>
<rect x="542" y="207" width="1" height="4" fill="#008000"/>
<rect x="541" y="207" width="1" height="1" fill="#008000"/>
<rect x="541" y="210" width="1" height="1" fill="#008000"/>
<rect x="544" y="196" width="1" height="8" fill="#008000"/>
<rect x="546" y="196" width="1" height="8" fill="#008000"/>
<rect x="545" y="196" width="1" height="1" fill="#008000"/>
<rect x="545" y="203" width="1" height="1" fill="#008000"/>
<rect x="548" y="187" width="1" height="10" fill="#FF0000"/>
<rect x="548" y="201" width="1" height="6" fill="#FF0000"/>
<rect x="547" y="197" width="3" height="4" fill="#FF0000"/>
<rect x="552" y="193" width="1" height="3" fill="#008000"/>
<rect x="552" y="200" width="1" height="6" fill="#008000"/>
<rect x="551" y="196" width="1" height="4" fill="#008000"/>
<rect x="553" y="196" width="1" height="4" fill="#008000"/>
<rect x="552" y="196" width="1" height="1" fill="#008000"/>
<rect x="552" y="199" width="1" height="1" fill="#008000"/>
<rect x="555" y="190" width="1" height="3" fill="#008000"/>
<rect x="555" y="195" width="1" height="1" fill="#008000"/>
<rect x="554" y="193" width="3" height="2" fill="#008000"/>
<rect x="559" y="189" width="1" height="2" fill="#008000"/>
<rect x="559" y="193" width="1" height="1" fill="#008000"/>
<rect x="558" y="191" width="3" height="2" fill="#008000"/>
<rect x="562" y="191" width="1" height="1" fill="#FF0000"/>
<rect x="561" y="192" width="3" height="3" fill="#FF0000"/>
<rect x="566" y="195" width="1" height="10" fill="#008000"/>
<rect x="565" y="193" width="3" height="2" fill="#008000"/>
<rect x="569" y="184" width="1" height="4" fill="#008000"/>
<rect x="569" y="193" width="1" height="1" fill="#008000"/>
<rect x="568" y="188" width="1" height="5" fill="#008000"/>
<rect x="570" y="188" width="1" height="5" fill="#008000"/>
<rect x="569" y="188" width="1" height="1" fill="#008000"/>
<rect x="569" y="192" width="1" height="1" fill="#008000"/>
<rect x="573" y="183" width="1" height="4" fill="#FF0000"/>
<rect x="573" y="188" width="1" height="1" fill="#FF0000"/>
<rect x="572" y="187" width="3" height="1" fill="#FF0000"/>
<rect x="575" y="179" width="1" height="5" fill="#008000"/>
<rect x="577" y="179" width="1" height="5" fill="#008000"/>
<rect x="576" y="179" width="1" height="1" fill="#008000"/>
<rect x="576" y="183" width="1" height="1" fill="#008000"/>
<rect x="580" y="174" width="1" height="4" fill="#FF0000"/>
<rect x="580" y="180" width="1" height="4" fill="#FF0000"/>
<rect x="579" y="178" width="3" height="2" fill="#FF0000"/>
<rect x="583" y="173" width="1" height="1" fill="#008000"/>
<rect x="582" y="159" width="1" height="14" fill="#008000"/>
<rect x="584" y="159" width="1" height="14" fill="#008000"/>
<rect x="583" y="159" width="1" height="1" fill="#008000"/>
<rect x="583" y="172" width="1" height="1" fill="#008000"/>
<rect x="587" y="158" width="1" height="2" fill="#FF0000"/>
<rect x="587" y="176" width="1" height="1" fill="#FF0000"/>
<rect x="586" y="160" width="3" height="16" fill="#FF0000"/>
<rect x="590" y="169" width="1" height="6" fill="#FF0000"/>
<rect x="590" y="176" width="1" height="5" fill="#FF0000"/>
<rect x="589" y="175" width="3" height="1" fill="#FF0000"/>
<rect x="593" y="179" width="1" height="1" fill="#FF0000"/>
<rect x="592" y="180" width="3" height="16" fill="#FF0000"/>
<rect x="597" y="189" width="1" height="5" fill="#FF0000"/>
<rect x="597" y="205" width="1" height="4" fill="#FF0000"/>
<rect x="596" y="194" width="3" height="11" fill="#FF0000"/>
<rect x="600" y="193" width="1" height="1" fill="#008000"/>
<rect x="599" y="194" width="1" height="10" fill="#008000"/>
<rect x="601" y="194" width="1" height="10" fill="#008000"/>
<rect x="600" y="194" width="1" height="1" fill="#008000"/>
<rect x="600" y="203" width="1" height="1" fill="#008000"/>
<rect x="604" y="190" width="1" height="1" fill="#008000"/>
<rect x="604" y="192" width="1" height="5" fill="#008000"/>
<rect x="603" y="191" width="3" height="1" fill="#008000"/>
<rect x="607" y="192" width="1" height="1" fill="#FF0000"/>
<rect x="607" y="199" width="1" height="4" fill="#FF0000"/>
<rect x="606" y="193" width="3" height="6" fill="#FF0000"/>
<rect x="611" y="198" width="1" height="4" fill="#FF0000"/>
<rect x="610" y="202" width="3" height="3" fill="#FF0000"/>
<rect x="614" y="199" width="1" height="3" fill="#008000"/>
<rect x="614" y="204" width="1" height="5" fill="#008000"/>
<rect x="613" y="202" width="3" height="2" fill="#008000"/>
<rect x="618" y="199" width="1" height="3" fill="#FF0000"/>
<rect x="617" y="202" width="3" height="10" fill="#FF0000"/>
<rect x="621" y="203" width="1" height="1" fill="#008000"/>
<rect x="620" y="204" width="1" height="8" fill="#008000"/>
<rect x="622" y="204" width="1" height="8" fill="#008000"/>
<rect x="621" y="204" width="1" height="1" fill="#008000"/>
<rect x="621" y="211" width="1" height="1" fill="#008000"/>
<rect x="625" y="208" width="1" height="4" fill="#FF0000"/>
<rect x="625" y="213" width="1" height="2" fill="#FF0000"/>
<rect x="624" y="212" width="3" height="1" fill="#FF0000"/>
<rect x="628" y="218" width="1" height="3" fill="#008000"/>
<rect x="628" y="223" width="1" height="2" fill="#008000"/>
<rect x="627" y="221" width="3" height="2" fill="#008000"/>
<rect x="632" y="216" width="1" height="1" fill="#008000"/>
<rect x="632" y="230" width="1" height="1" fill="#008000"/>
<rect x="631" y="217" width="1" height="13" fill="#008000"/>
<rect x="633" y="217" width="1" height="13" fill="#008000"/>
<rect x="632" y="217" width="1" height="1" fill="#008000"/>
<rect x="632" y="229" width="1" height="1" fill="#008000"/>
<rect x="635" y="210" width="1" height="1" fill="#008000"/>
<rect x="635" y="218" width="1" height="2" fill="#008000"/>
<rect x="634" y="211" width="1" height="7" fill="#008000"/>
<rect x="636" y="211" width="1" height="7" fill="#008000"/>
<rect x="635" y="211" width="1" height="1" fill="#008000"/>
<rect x="635" y="217" width="1" height="1" fill="#008000"/>
<rect x="639" y="201" width="1" height="10" fill="#008000"/>
<rect x="639" y="213" width="1" height="3" fill="#008000"/>
<rect x="638" y="211" width="3" height="2" fill="#008000"/>
<rect x="642" y="197" width="1" height="5" fill="#008000"/>
<rect x="641" y="202" width="3" height="2" fill="#008000"/>
<rect x="645" y="192" width="1" height="6" fill="#008000"/>
<rect x="647" y="192" width="1" height="6" fill="#008000"/>
<rect x="646" y="192" width="1" height="1" fill="#008000"/>
<rect x="646" y="197" width="1" height="1" fill="#008000"/>
<rect x="649" y="188" width="1" height="5" fill="#FF0000"/>
<rect x="649" y="195" width="1" height="3" fill="#FF0000"/>
<rect x="648" y="193" width="3" height="2" fill="#FF0000"/>
<rect x="652" y="190" width="1" height="3" fill="#008000"/>
<rect x="652" y="195" width="1" height="4" fill="#008000"/>
<rect x="651" y="193" width="3" height="2" fill="#008000"/>
<rect x="656" y="191" width="1" height="2" fill="#FF0000"/>
<rect x="655" y="193" width="3" height="5" fill="#FF0000"/>
<rect x="659" y="191" width="1" height="4" fill="#008000"/>
<rect x="659" y="196" width="1" height="1" fill="#008000"/>
<rect x="658" y="195" width="3" height="1" fill="#008000"/>
<rect x="663" y="195" width="1" height="1" fill="#FF0000"/>
<rect x="663" y="202" width="1" height="1" fill="#FF0000"/>
<rect x="662" y="196" width="3" height="6" fill="#FF0000"/>
<rect x="666" y="201" width="1" height="1" fill="#FF0000"/>
<rect x="666" y="210" width="1" height="1" fill="#FF0000"/>
<rect x="665" y="202" width="3" height="8" fill="#FF0000"/>
<rect x="670" y="204" width="1" height="4" fill="#FF0000"/>
<rect x="670" y="209" width="1" height="2" fill="#FF0000"/>
<rect x="669" y="208" width="3" height="1" fill="#FF0000"/>
<rect x="673" y="208" width="1" height="4" fill="#008000"/>
<rect x="672" y="207" width="3" height="1" fill="#008000"/>
<rect x="677" y="204" width="1" height="1" fill="#008000"/>
<rect x="677" y="207" width="1" height="2" fill="#008000"/>
<rect x="676" y="205" width="3" height="2" fill="#008000"/>
<rect x="680" y="198" width="1" height="2" fill="#008000"/>
<rect x="680" y="206" width="1" height="1" fill="#008000"/>
<rect x="679" y="200" width="1" height="6" fill="#008000"/>
<rect x="681" y="200" width="1" height="6" fill="#008000"/>
<rect x="680" y="200" width="1" height="1" fill="#008000"/>
<rect x="680" y="205" width="1" height="1" fill="#008000"/>
<rect x="684" y="196" width="1" height="1" fill="#008000"/>
<rect x="684" y="198" width="1" height="2" fill="#008000"/>
<rect x="683" y="197" width="3" height="1" fill="#008000"/>
<rect x="687" y="192" width="1" height="2" fill="#008000"/>
<rect x="687" y="195" width="1" height="1" fill="#008000"/>
<rect x="686" y="194" width="3" height="1" fill="#008000"/>
<rect x="691" y="194" width="1" height="1" fill="#008000"/>
<rect x="690" y="188" width="1" height="6" fill="#008000"/>
<rect x="692" y="188" width="1" height="6" fill="#008000"/>
<rect x="691" y="188" width="1" height="1" fill="#008000"/>
<rect x="691" y="193" width="1" height="1" fill="#008000"/>
<rect x="694" y="181" width="1" height="2" fill="#008000"/>
<rect x="694" y="188" width="1" height="2" fill="#008000"/>
<rect x="693" y="183" width="1" height="5" fill="#008000"/>
<rect x="695" y="183" width="1" height="5" fill="#008000"/>
<rect x="694" y="183" width="1" height="1" fill="#008000"/>
<rect x="694" y="187" width="1" height="1" fill="#008000"/>
<rect x="698" y="183" width="1" height="1" fill="#008000"/>
<rect x="697" y="173" width="1" height="10" fill="#008000"/>
<rect x="699" y="173" width="1" height="10" fill="#008000"/>
<rect x="698" y="173" width="1" height="1" fill="#008000"/>
<rect x="698" y="182" width="1" height="1" fill="#008000"/>
<rect x="701" y="166" width="1" height="6" fill="#FF0000"/>
<rect x="701" y="177" width="1" height="1" fill="#FF0000"/>
<rect x="700" y="172" width="3" height="5" fill="#FF0000"/>
<rect x="705" y="175" width="1" height="3" fill="#FF0000"/>
<rect x="705" y="180" width="1" height="11" fill="#FF0000"/>
<rect x="704" y="178" width="3" height="2" fill="#FF0000"/>
<rect x="708" y="178" width="1" height="1" fill="#FF0000"/>
<rect x="708" y="201" width="1" height="1" fill="#FF0000"/>
<rect x="707" y="179" width="3" height="22" fill="#FF0000"/>
<rect x="711" y="192" width="1" height="3" fill="#008000"/>
<rect x="711" y="201" width="1" height="5" fill="#008000"/>
<rect x="710" y="195" width="1" height="6" fill="#008000"/>
<rect x="712" y="195" width="1" height="6" fill="#008000"/>
<rect x="711" y="195" width="1" height="1" fill="#008000"/>
<rect x="711" y="200" width="1" height="1" fill="#008000"/>
<rect x="715" y="191" width="1" height="1" fill="#008000"/>
<rect x="715" y="193" width="1" height="6" fill="#008000"/>
<rect x="714" y="192" width="3" height="1" fill="#008000"/>
<rect x="718" y="192" width="1" height="2" fill="#008000"/>
<rect x="718" y="195" width="1" height="2" fill="#008000"/>
<rect x="717" y="194" width="3" height="1" fill="#008000"/>
<rect x="722" y="194" width="1" height="1" fill="#FF0000"/>
<rect x="721" y="195" width="3" height="3" fill="#FF0000"/>
<rect x="725" y="189" width="1" height="3" fill="#008000"/>
<rect x="725" y="195" width="1" height="2" fill="#008000"/>
<rect x="724" y="192" width="1" height="3" fill="#008000"/>
<rect x="726" y="192" width="1" height="3" fill="#008000"/>
<rect x="725" y="192" width="1" height="1" fill="#008000"/>
<rect x="725" y="194" width="1" height="1" fill="#008000"/>
<rect x="729" y="187" width="1" height="6" fill="#FF0000"/>
<rect x="729" y="199" width="1" height="1" fill="#FF0000"/>
<rect x="728" y="193" width="3" height="6" fill="#FF0000"/>
<rect x="732" y="195" width="1" height="3" fill="#008000"/>
<rect x="732" y="199" width="1" height="2" fill="#008000"/>
<rect x="731" y="198" width="3" height="1" fill="#008000"/>
<rect x="736" y="197" width="1" height="2" fill="#008000"/>
<rect x="735" y="199" width="3" height="2" fill="#008000"/>
<rect x="739" y="199" width="1" height="1" fill="#008000"/>
<rect x="738" y="198" width="3" height="1" fill="#008000"/>
<rect x="743" y="196" width="1" height="3" fill="#FF0000"/>
<rect x="743" y="204" width="1" height="3" fill="#FF0000"/>
<rect x="742" y="199" width="3" height="5" fill="#FF0000"/>
<rect x="746" y="201" width="1" height="2" fill="#008000"/>
<rect x="746" y="204" width="1" height="4" fill="#008000"/>
<rect x="745" y="203" width="3" height="1" fill="#008000"/>
<rect x="750" y="203" width="1" height="2" fill="#FF0000"/>
<rect x="750" y="206" width="1" height="2" fill="#FF0000"/>
<rect x="749" y="205" width="3" height="1" fill="#FF0000"/>
<rect x="753" y="196" width="1" height="1" fill="#008000"/>
<rect x="753" y="203" width="1" height="1" fill="#008000"/>
<rect x="752" y="197" width="1" height="6" fill="#008000"/>
<rect x="754" y="197" width="1" height="6" fill="#008000"/>
<rect x="753" y="197" width="1" height="1" fill="#008000"/>
<rect x="753" y="202" width="1" height="1" fill="#008000"/>
<rect x="757" y="194" width="1" height="5" fill="#FF0000"/>
<rect x="757" y="201" width="1" height="1" fill="#FF0000"/>
<rect x="756" y="199" width="3" height="2" fill="#FF0000"/>
<rect x="760" y="198" width="1" height="1" fill="#008000"/>
<rect x="760" y="201" width="1" height="2" fill="#008000"/>
<rect x="759" y="199" width="3" height="2" fill="#008000"/>
<rect x="764" y="194" width="1" height="2" fill="#008000"/>
<rect x="764" y="202" width="1" height="1" fill="#008000"/>
<rect x="763" y="196" width="1" height="6" fill="#008000"/>
<rect x="765" y="196" width="1" height="6" fill="#008000"/>
<rect x="764" y="196" width="1" height="1" fill="#008000"/>
<rect x="764" y="201" width="1" height="1" fill="#008000"/>
<rect x="767" y="193" width="1" height="3" fill="#FF0000"/>
<rect x="767" y="199" width="1" height="1" fill="#FF0000"/>
<rect x="766" y="196" width="3" height="3" fill="#FF0000"/>
<rect x="770" y="193" width="1" height="1" fill="#FF0000"/>
<rect x="770" y="203" width="1" height="1" fill="#FF0000"/>
<rect x="769" y="194" width="3" height="9" fill="#FF0000"/>
<rect x="774" y="202" width="1" height="1" fill="#FF0000"/>
<rect x="774" y="205" width="1" height="1" fill="#FF0000"/>
<rect x="773" y="203" width="3" height="2" fill="#FF0000"/>
<rect x="777" y="205" width="1" height="1" fill="#FF0000"/>
<rect x="777" y="211" width="1" height="1" fill="#FF0000"/>
<rect x="776" y="206" width="3" height="5" fill="#FF0000"/>
<rect x="781" y="208" width="1" height="3" fill="#FF0000"/>
<rect x="781" y="213" width="1" height="2" fill="#FF0000"/>
<rect x="780" y="211" width="3" height="2" fill="#FF0000"/>
<rect x="784" y="202" width="1" height="9" fill="#FF0000"/>
<rect x="783" y="211" width="3" height="1" fill="#FF0000"/>
<rect x="788" y="210" width="1" height="1" fill="#008000"/>
<rect x="787" y="188" width="1" height="22" fill="#008000"/>
<rect x="789" y="188" width="1" height="22" fill="#008000"/>
<rect x="788" y="188" width="1" height="1" fill="#008000"/>
<rect x="788" y="209" width="1" height="1" fill="#008000"/>
<rect x="791" y="188" width="1" height="1" fill="#008000"/>
<rect x="791" y="192" width="1" height="2" fill="#008000"/>
<rect x="790" y="189" width="1" height="3" fill="#008000"/>
<rect x="792" y="189" width="1" height="3" fill="#008000"/>
<rect x="791" y="189" width="1" height="1" fill="#008000"/>
<rect x="791" y="191" width="1" height="1" fill="#008000"/>
<rect x="795" y="182" width="1" height="3" fill="#008000"/>
<rect x="795" y="189" width="1" height="3" fill="#008000"/>
<rect x="794" y="185" width="1" height="4" fill="#008000"/>
<rect x="796" y="185" width="1" height="4" fill="#008000"/>
<rect x="795" y="185" width="1" height="1" fill="#008000"/>
<rect x="795" y="188" width="1" height="1" fill="#008000"/>
<rect x="798" y="181" width="1" height="6" fill="#FF0000"/>
<rect x="798" y="191" width="1" height="1" fill="#FF0000"/>
<rect x="797" y="187" width="3" height="4" fill="#FF0000"/>
<rect x="802" y="183" width="1" height="6" fill="#008000"/>
<rect x="802" y="191" width="1" height="7" fill="#008000"/>
<rect x="801" y="189" width="3" height="2" fill="#008000"/>
<rect x="805" y="190" width="1" height="4" fill="#008000"/>
<rect x="804" y="175" width="1" height="15" fill="#008000"/>
<rect x="806" y="175" width="1" height="15" fill="#008000"/>
<rect x="805" y="175" width="1" height="1" fill="#008000"/>
<rect x="805" y="189" width="1" height="1" fill="#008000"/>
<rect x="809" y="179" width="1" height="2" fill="#FF0000"/>
<rect x="809" y="192" width="1" height="2" fill="#FF0000"/>
<rect x="808" y="181" width="3" height="11" fill="#FF0000"/>
<rect x="812" y="181" width="1" height="1" fill="#008000"/>
<rect x="812" y="193" width="1" height="1" fill="#008000"/>
<rect x="811" y="182" width="1" height="11" fill="#008000"/>
<rect x="813" y="182" width="1" height="11" fill="#008000"/>
<rect x="812" y="182" width="1" height="1" fill="#008000"/>
<rect x="812" y="192" width="1" height="1" fill="#008000"/>
<rect x="816" y="184" width="1" height="3" fill="#008000"/>
<rect x="815" y="177" width="1" height="7" fill="#008000"/>
<rect x="817" y="177" width="1" height="7" fill="#008000"/>
<rect x="816" y="177" width="1" height="1" fill="#008000"/>
<rect x="816" y="183" width="1" height="1" fill="#008000"/>
<rect x="818" y="171" width="1" height="10" fill="#008000"/>
<rect x="820" y="171" width="1" height="10" fill="#008000"/>
<rect x="819" y="171" width="1" height="1" fill="#008000"/>
<rect x="819" y="180" width="1" height="1" fill="#008000"/>
<rect x="822" y="166" width="1" height="1" fill="#008000"/>
<rect x="822" y="173" width="1" height="2" fill="#008000"/>
<rect x="821" y="167" width="1" height="6" fill="#008000"/>
<rect x="823" y="167" width="1" height="6" fill="#008000"/>
<rect x="822" y="167" width="1" height="1" fill="#008000"/>
<rect x="822" y="172" width="1" height="1" fill="#008000"/>
<rect x="826" y="160" width="1" height="3" fill="#008000"/>
<rect x="826" y="167" width="1" height="1" fill="#008000"/>
<rect x="825" y="163" width="1" height="4" fill="#008000"/>
<rect x="827" y="163" width="1" height="4" fill="#008000"/>
<rect x="826" y="163" width="1" height="1" fill="#008000"/>
<rect x="826" y="166" width="1" height="1" fill="#008000"/>
<rect x="829" y="164" width="1" height="1" fill="#FF0000"/>
<rect x="829" y="167" width="1" height="9" fill="#FF0000"/>
<rect x="828" y="165" width="3" height="2" fill="#FF0000"/>
<rect x="833" y="166" width="1" height="2" fill="#FF0000"/>
<rect x="832" y="168" width="3" height="5" fill="#FF0000"/>
<rect x="836" y="175" width="1" height="2" fill="#FF0000"/>
<rect x="836" y="179" width="1" height="1" fill="#FF0000"/>
<rect x="835" y="177" width="3" height="2" fill="#FF0000"/>
<rect x="840" y="172" width="1" height="3" fill="#008000"/>
<rect x="840" y="178" width="1" height="1" fill="#008000"/>
<rect x="839" y="175" width="1" height="3" fill="#008000"/>
<rect x="841" y="175" width="1" height="3" fill="#008000"/>
<rect x="840" y="175" width="1" height="1" fill="#008000"/>
<rect x="840" y="177" width="1" height="1" fill="#008000"/>
<rect x="843" y="175" width="1" height="1" fill="#FF0000"/>
<rect x="843" y="178" width="1" height="1" fill="#FF0000"/>
<rect x="842" y="176" width="3" height="2" fill="#FF0000"/>
<rect x="847" y="177" width="1" height="1" fill="#008000"/>
<rect x="846" y="172" width="1" height="5" fill="#008000"/>
<rect x="848" y="172" width="1" height="5" fill="#008000"/>
<rect x="847" y="172" width="1" height="1" fill="#008000"/>
<rect x="847" y="176" width="1" height="1" fill="#008000"/>
<rect x="850" y="169" width="1" height="3" fill="#008000"/>
<rect x="850" y="174" width="1" height="1" fill="#008000"/>
<rect x="849" y="172" width="3" height="2" fill="#008000"/>
<rect x="854" y="176" width="1" height="1" fill="#008000"/>
<rect x="853" y="175" width="3" height="1" fill="#008000"/>
<rect x="857" y="167" width="1" height="3" fill="#008000"/>
<rect x="857" y="175" width="1" height="6" fill="#008000"/>
<rect x="856" y="170" width="1" height="5" fill="#008000"/>
<rect x="858" y="170" width="1" height="5" fill="#008000"/>
<rect x="857" y="170" width="1" height="1" fill="#008000"/>
<rect x="857" y="174" width="1" height="1" fill="#008000"/>
<rect x="861" y="171" width="1" height="1" fill="#008000"/>
<rect x="860" y="170" width="3" height="1" fill="#008000"/>
<rect x="864" y="161" width="1" height="7" fill="#008000"/>
<rect x="864" y="170" width="1" height="1" fill="#008000"/>
<rect x="863" y="168" width="3" height="2" fill="#008000"/>
<rect x="868" y="163" width="1" height="2" fill="#FF0000"/>
<rect x="867" y="165" width="3" height="2" fill="#FF0000"/>
<rect x="871" y="167" width="1" height="2" fill="#008000"/>
<rect x="870" y="166" width="3" height="1" fill="#008000"/>
<rect x="875" y="159" width="1" height="2" fill="#008000"/>
<rect x="875" y="166" width="1" height="1" fill="#008000"/>
<rect x="874" y="161" width="1" height="5" fill="#008000"/>
<rect x="876" y="161" width="1" height="5" fill="#008000"/>
<rect x="875" y="161" width="1" height="1" fill="#008000"/>
<rect x="875" y="165" width="1" height="1" fill="#008000"/>
<rect x="878" y="161" width="1" height="1" fill="#FF0000"/>
<rect x="878" y="164" width="1" height="1" fill="#FF0000"/>
<rect x="877" y="162" width="3" height="2" fill="#FF0000"/>
<rect x="881" y="159" width="1" height="1" fill="#008000"/>
<rect x="881" y="162" width="1" height="4" fill="#008000"/>
<rect x="880" y="160" width="3" height="2" fill="#008000"/>
<rect x="885" y="152" width="1" height="4" fill="#008000"/>
<rect x="885" y="160" width="1" height="1" fill="#008000"/>
<rect x="884" y="156" width="1" height="4" fill="#008000"/>
<rect x="886" y="156" width="1" height="4" fill="#008000"/>
<rect x="885" y="156" width="1" height="1" fill="#008000"/>
<rect x="885" y="159" width="1" height="1" fill="#008000"/>
<rect x="888" y="154" width="1" height="3" fill="#FF0000"/>
<rect x="888" y="159" width="1" height="3" fill="#FF0000"/>
<rect x="887" y="157" width="3" height="2" fill="#FF0000"/>
<rect x="892" y="152" width="1" height="2" fill="#FF0000"/>
<rect x="891" y="154" width="3" height="5" fill="#FF0000"/>
<rect x="895" y="158" width="1" height="2" fill="#008000"/>
<rect x="894" y="147" width="1" height="11" fill="#008000"/>
<rect x="896" y="147" width="1" height="11" fill="#008000"/>
<rect x="895" y="147" width="1" height="1" fill="#008000"/>
<rect x="895" y="157" width="1" height="1" fill="#008000"/>
<rect x="899" y="140" width="1" height="1" fill="#008000"/>
<rect x="899" y="148" width="1" height="1" fill="#008000"/>
<rect x="898" y="141" width="1" height="7" fill="#008000"/>
<rect x="900" y="141" width="1" height="7" fill="#008000"/>
<rect x="899" y="141" width="1" height="1" fill="#008000"/>
<rect x="899" y="147" width="1" height="1" fill="#008000"/>
<rect x="902" y="138" width="1" height="1" fill="#008000"/>
<rect x="901" y="132" width="1" height="6" fill="#008000"/>
<rect x="903" y="132" width="1" height="6" fill="#008000"/>
<rect x="902" y="132" width="1" height="1" fill="#008000"/>
<rect x="902" y="137" width="1" height="1" fill="#008000"/>
<rect x="906" y="115" width="1" height="6" fill="#008000"/>
<rect x="905" y="121" width="1" height="3" fill="#008000"/>
<rect x="907" y="121" width="1" height="3" fill="#008000"/>
<rect x="906" y="121" width="1" height="1" fill="#008000"/>
<rect x="906" y="123" width="1" height="1" fill="#008000"/>
<rect x="909" y="114" width="1" height="6" fill="#FF0000"/>
<rect x="909" y="121" width="1" height="5" fill="#FF0000"/>
<rect x="908" y="120" width="3" height="1" fill="#FF0000"/>
<rect x="913" y="117" width="1" height="6" fill="#FF0000"/>
<rect x="913" y="125" width="1" height="1" fill="#FF0000"/>
<rect x="912" y="123" width="3" height="2" fill="#FF0000"/>
<rect x="916" y="124" width="1" height="1" fill="#FF0000"/>
<rect x="916" y="134" width="1" height="1" fill="#FF0000"/>
<rect x="915" y="125" width="3" height="9" fill="#FF0000"/>
<rect x="920" y="133" width="1" height="1" fill="#FF0000"/>
<rect x="919" y="134" width="3" height="12" fill="#FF0000"/>
<rect x="923" y="129" width="1" height="7" fill="#008000"/>
<rect x="923" y="145" width="1" height="1" fill="#008000"/>
<rect x="922" y="136" width="1" height="9" fill="#008000"/>
<rect x="924" y="136" width="1" height="9" fill="#008000"/>
<rect x="923" y="136" width="1" height="1" fill="#008000"/>
<rect x="923" y="144" width="1" height="1" fill="#008000"/>
<rect x="927" y="136" width="1" height="1" fill="#FF0000"/>
<rect x="927" y="153" width="1" height="1" fill="#FF0000"/>
<rect x="926" y="137" width="3" height="16" fill="#FF0000"/>
<rect x="930" y="138" width="1" height="3" fill="#008000"/>
<rect x="930" y="150" width="1" height="1" fill="#008000"/>
<rect x="929" y="141" width="1" height="9" fill="#008000"/>
<rect x="931" y="141" width="1" height="9" fill="#008000"/>
<rect x="930" y="141" width="1" height="1" fill="#008000"/>
<rect x="930" y="149" width="1" height="1" fill="#008000"/>
<rect x="934" y="133" width="1" height="1" fill="#008000"/>
<rect x="934" y="143" width="1" height="1" fill="#008000"/>
<rect x="933" y="134" width="1" height="9" fill="#008000"/>
<rect x="935" y="134" width="1" height="9" fill="#008000"/>
<rect x="934" y="134" width="1" height="1" fill="#008000"/>
<rect x="934" y="142" width="1" height="1" fill="#008000"/>
<rect x="937" y="145" width="1" height="1" fill="#FF0000"/>
<rect x="936" y="146" width="3" height="13" fill="#FF0000"/>
<rect x="940" y="152" width="1" height="6" fill="#FF0000"/>
<rect x="939" y="158" width="3" height="4" fill="#FF0000"/>
<rect x="944" y="157" width="1" height="3" fill="#FF0000"/>
<rect x="944" y="162" width="1" height="5" fill="#FF0000"/>
<rect x="943" y="160" width="3" height="2" fill="#FF0000"/>
<rect x="947" y="161" width="1" height="1" fill="#FF0000"/>
<rect x="946" y="162" width="3" height="9" fill="#FF0000"/>
<rect x="951" y="164" width="1" height="1" fill="#008000"/>
<rect x="950" y="165" width="1" height="5" fill="#008000"/>
<rect x="952" y="165" width="1" height="5" fill="#008000"/>
<rect x="951" y="165" width="1" height="1" fill="#008000"/>
<rect x="951" y="169" width="1" height="1" fill="#008000"/>
<rect x="954" y="164" width="1" height="1" fill="#008000"/>
<rect x="953" y="157" width="1" height="7" fill="#008000"/>
<rect x="955" y="157" width="1" height="7" fill="#008000"/>
<rect x="954" y="157" width="1" height="1" fill="#008000"/>
<rect x="954" y="163" width="1" height="1" fill="#008000"/>
<rect x="958" y="157" width="1" height="1" fill="#008000"/>
<rect x="957" y="153" width="1" height="4" fill="#008000"/>
<rect x="959" y="153" width="1" height="4" fill="#008000"/>
<rect x="958" y="153" width="1" height="1" fill="#008000"/>
<rect x="958" y="156" width="1" height="1" fill="#008000"/>
<rect x="961" y="153" width="1" height="7" fill="#008000"/>
<rect x="960" y="148" width="1" height="5" fill="#008000"/>
<rect x="962" y="148" width="1" height="5" fill="#008000"/>
<rect x="961" y="148" width="1" height="1" fill="#008000"/>
<rect x="961" y="152" width="1" height="1" fill="#008000"/>
<rect x="965" y="148" width="1" height="1" fill="#008000"/>
<rect x="964" y="140" width="1" height="8" fill="#008000"/>
<rect x="966" y="140" width="1" height="8" fill="#008000"/>
<rect x="965" y="140" width="1" height="1" fill="#008000"/>
<rect x="965" y="147" width="1" height="1" fill="#008000"/>
<rect x="968" y="139" width="1" height="2" fill="#008000"/>
<rect x="967" y="141" width="3" height="2" fill="#008000"/>
<rect x="972" y="142" width="1" height="7" fill="#FF0000"/>
<rect x="971" y="141" width="3" height="1" fill="#FF0000"/>
<rect x="975" y="135" width="1" height="2" fill="#008000"/>
<rect x="975" y="141" width="1" height="7" fill="#008000"/>
<rect x="974" y="137" width="1" height="4" fill="#008000"/>
<rect x="976" y="137" width="1" height="4" fill="#008000"/>
<rect x="975" y="137" width="1" height="1" fill="#008000"/>
<rect x="975" y="140" width="1" height="1" fill="#008000"/>
<rect x="979" y="136" width="1" height="2" fill="#FF0000"/>
<rect x="979" y="149" width="1" height="1" fill="#FF0000"/>
<rect x="978" y="138" width="3" height="11" fill="#FF0000"/>
<rect x="982" y="135" width="1" height="5" fill="#008000"/>
<rect x="982" y="149" width="1" height="1" fill="#008000"/>
<rect x="981" y="140" width="1" height="9" fill="#008000"/>
<rect x="983" y="140" width="1" height="9" fill="#008000"/>
<rect x="982" y="140" width="1" height="1" fill="#008000"/>
<rect x="982" y="148" width="1" height="1" fill="#008000"/>
<rect x="986" y="137" width="1" height="7" fill="#008000"/>
<rect x="986" y="146" width="1" height="1" fill="#008000"/>
<rect x="985" y="144" width="3" height="2" fill="#008000"/>
<rect x="989" y="145" width="1" height="1" fill="#008000"/>
<rect x="988" y="134" width="1" height="11" fill="#008000"/>
<rect x="990" y="134" width="1" height="11" fill="#008000"/>
<rect x="989" y="134" width="1" height="1" fill="#008000"/>
<rect x="989" y="144" width="1" height="1" fill="#008000"/>
<rect x="993" y="134" width="1" height="1" fill="#008000"/>
<rect x="992" y="127" width="1" height="7" fill="#008000"/>
<rect x="994" y="127" width="1" height="7" fill="#008000"/>
<rect x="993" y="127" width="1" height="1" fill="#008000"/>
<rect x="993" y="133" width="1" height="1" fill="#008000"/>
<rect x="996" y="126" width="1" height="2" fill="#FF0000"/>
<rect x="996" y="132" width="1" height="6" fill="#FF0000"/>
<rect x="995" y="128" width="3" height="4" fill="#FF0000"/>
<rect x="999" y="119" width="1" height="4" fill="#008000"/>
<rect x="999" y="131" width="1" height="1" fill="#008000"/>
<rect x="998" y="123" width="1" height="8" fill="#008000"/>
<rect x="1000" y="123" width="1" height="8" fill="#008000"/>
<rect x="999" y="123" width="1" height="1" fill="#008000"/>
<rect x="999" y="130" width="1" height="1" fill="#008000"/>
<rect x="1003" y="119" width="1" height="1" fill="#FF0000"/>
<rect x="1003" y="127" width="1" height="6" fill="#FF0000"/>
<rect x="1002" y="120" width="3" height="7" fill="#FF0000"/>
<rect x="1006" y="123" width="1" height="4" fill="#FF0000"/>
<rect x="1006" y="131" width="1" height="1" fill="#FF0000"/>
<rect x="1005" y="127" width="3" height="4" fill="#FF0000"/>
<rect x="1010" y="124" width="1" height="1" fill="#FF0000"/>
<rect x="1010" y="141" width="1" height="5" fill="#FF0000"/>
<rect x="1009" y="125" width="3" height="16" fill="#FF0000"/>
<rect x="1013" y="135" width="1" height="2" fill="#008000"/>
<rect x="1013" y="141" width="1" height="4" fill="#008000"/>
<rect x="1012" y="137" width="1" height="4" fill="#008000"/>
<rect x="1014" y="137" width="1" height="4" fill="#008000"/>
<rect x="1013" y="137" width="1" height="1" fill="#008000"/>
<rect x="1013" y="140" width="1" height="1" fill="#008000"/>
<rect x="1017" y="131" width="1" height="7" fill="#FF0000"/>
<rect x="1016" y="138" width="3" height="8" fill="#FF0000"/>
<rect x="1020" y="138" width="1" height="1" fill="#008000"/>
<rect x="1020" y="147" width="1" height="1" fill="#008000"/>
<rect x="1019" y="139" width="1" height="8" fill="#008000"/>
<rect x="1021" y="139" width="1" height="8" fill="#008000"/>
<rect x="1020" y="139" width="1" height="1" fill="#008000"/>
<rect x="1020" y="146" width="1" height="1" fill="#008000"/>
<rect x="1024" y="138" width="1" height="7" fill="#FF0000"/>
<rect x="1024" y="146" width="1" height="2" fill="#FF0000"/>
<rect x="1023" y="145" width="3" height="1" fill="#FF0000"/>
<rect x="1027" y="130" width="1" height="5" fill="#008000"/>
<rect x="1027" y="142" width="1" height="4" fill="#008000"/>
<rect x="1026" y="135" width="1" height="7" fill="#008000"/>
<rect x="1028" y="135" width="1" height="7" fill="#008000"/>
<rect x="1027" y="135" width="1" height="1" fill="#008000"/>
<rect x="1027" y="141" width="1" height="1" fill="#008000"/>
<rect x="1031" y="118" width="1" height="1" fill="#008000"/>
<rect x="1031" y="135" width="1" height="1" fill="#008000"/>
<rect x="1030" y="119" width="1" height="16" fill="#008000"/>
<rect x="1032" y="119" width="1" height="16" fill="#008000"/>
<rect x="1031" y="119" width="1" height="1" fill="#008000"/>
<rect x="1031" y="134" width="1" height="1" fill="#008000"/>
<rect x="1034" y="116" width="1" height="2" fill="#008000"/>
<rect x="1034" y="127" width="1" height="1" fill="#008000"/>
<rect x="1033" y="118" width="1" height="9" fill="#008000"/>
<rect x="1035" y="118" width="1" height="9" fill="#008000"/>
<rect x="1034" y="118" width="1" height="1" fill="#008000"/>
<rect x="1034" y="126" width="1" height="1" fill="#008000"/>
<rect x="1038" y="116" width="1" height="2" fill="#008000"/>
<rect x="1038" y="119" width="1" height="8" fill="#008000"/>
<rect x="1037" y="118" width="3" height="1" fill="#008000"/>
<rect x="1041" y="92" width="1" height="3" fill="#008000"/>
<rect x="1041" y="103" width="1" height="4" fill="#008000"/>
<rect x="1040" y="95" width="1" height="8" fill="#008000"/>
<rect x="1042" y="95" width="1" height="8" fill="#008000"/>
<rect x="1041" y="95" width="1" height="1" fill="#008000"/>
<rect x="1041" y="102" width="1" height="1" fill="#008000"/>
<rect x="1045" y="92" width="1" height="3" fill="#008000"/>
<rect x="1045" y="96" width="1" height="10" fill="#008000"/>
<rect x="1044" y="95" width="3" height="1" fill="#008000"/>
<rect x="1048" y="85" width="1" height="1" fill="#008000"/>
<rect x="1048" y="92" width="1" height="1" fill="#008000"/>
<rect x="1047" y="86" width="1" height="6" fill="#008000"/>
<rect x="1049" y="86" width="1" height="6" fill="#008000"/>
<rect x="1048" y="86" width="1" height="1" fill="#008000"/>
<rect x="1048" y="91" width="1" height="1" fill="#008000"/>
<rect x="1052" y="85" width="1" height="2" fill="#FF0000"/>
<rect x="1051" y="87" width="3" height="8" fill="#FF0000"/>
<rect x="1055" y="88" width="1" height="2" fill="#FF0000"/>
<rect x="1054" y="90" width="3" height="10" fill="#FF0000"/>
<rect x="1058" y="86" width="1" height="9" fill="#008000"/>
<rect x="1058" y="102" width="1" height="5" fill="#008000"/>
<rect x="1057" y="95" width="1" height="7" fill="#008000"/>
<rect x="1059" y="95" width="1" height="7" fill="#008000"/>
<rect x="1058" y="95" width="1" height="1" fill="#008000"/>
<rect x="1058" y="101" width="1" height="1" fill="#008000"/>
<rect x="1062" y="95" width="1" height="1" fill="#FF0000"/>
<rect x="1062" y="104" width="1" height="10" fill="#FF0000"/>
<rect x="1061" y="96" width="3" height="8" fill="#FF0000"/>
<rect x="1065" y="95" width="1" height="7" fill="#008000"/>
<rect x="1065" y="105" width="1" height="1" fill="#008000"/>
<rect x="1064" y="102" width="1" height="3" fill="#008000"/>
<rect x="1066" y="102" width="1" height="3" fill="#008000"/>
<rect x="1065" y="102" width="1" height="1" fill="#008000"/>
<rect x="1065" y="104" width="1" height="1" fill="#008000"/>
<rect x="1069" y="94" width="1" height="6" fill="#008000"/>
<rect x="1069" y="103" width="1" height="4" fill="#008000"/>
<rect x="1068" y="100" width="1" height="3" fill="#008000"/>
<rect x="1070" y="100" width="1" height="3" fill="#008000"/>
<rect x="1069" y="100" width="1" height="1" fill="#008000"/>
<rect x="1069" y="102" width="1" height="1" fill="#008000"/>
<rect x="1072" y="94" width="1" height="5" fill="#008000"/>
<rect x="1072" y="102" width="1" height="1" fill="#008000"/>
<rect x="1071" y="99" width="1" height="3" fill="#008000"/>
<rect x="1073" y="99" width="1" height="3" fill="#008000"/>
<rect x="1072" y="99" width="1" height="1" fill="#008000"/>
<rect x="1072" y="101" width="1" height="1" fill="#008000"/>
<rect x="1076" y="99" width="1" height="4" fill="#FF0000"/>
<rect x="1075" y="103" width="3" height="7" fill="#FF0000"/>
<rect x="1079" y="110" width="1" height="1" fill="#FF0000"/>
<rect x="1078" y="111" width="3" height="7" fill="#FF0000"/>
<rect x="1083" y="113" width="1" height="5" fill="#FF0000"/>
<rect x="1082" y="118" width="3" height="2" fill="#FF0000"/>
<rect x="1086" y="126" width="1" height="3" fill="#FF0000"/>
<rect x="1085" y="119" width="3" height="7" fill="#FF0000"/>
<rect x="1090" y="117" width="1" height="1" fill="#008000"/>
<rect x="1090" y="126" width="1" height="1" fill="#008000"/>
<rect x="1089" y="118" width="1" height="8" fill="#008000"/>
<rect x="1091" y="118" width="1" height="8" fill="#008000"/>
<rect x="1090" y="118" width="1" height="1" fill="#008000"/>
<rect x="1090" y="125" width="1" height="1" fill="#008000"/>
<rect x="1093" y="115" width="1" height="4" fill="#FF0000"/>
<rect x="1093" y="121" width="1" height="2" fill="#FF0000"/>
<rect x="1092" y="119" width="3" height="2" fill="#FF0000"/>
<rect x="1097" y="113" width="1" height="2" fill="#008000"/>
<rect x="1097" y="120" width="1" height="5" fill="#008000"/>
<rect x="1096" y="115" width="1" height="5" fill="#008000"/>
<rect x="1098" y="115" width="1" height="5" fill="#008000"/>
<rect x="1097" y="115" width="1" height="1" fill="#008000"/>
<rect x="1097" y="119" width="1" height="1" fill="#008000"/>
<rect x="1100" y="114" width="1" height="2" fill="#FF0000"/>
<rect x="1100" y="119" width="1" height="3" fill="#FF0000"/>
<rect x="1099" y="116" width="3" height="3" fill="#FF0000"/>
<rect x="1104" y="116" width="1" height="4" fill="#FF0000"/>
<rect x="1103" y="120" width="3" height="7" fill="#FF0000"/>
<rect x="1107" y="120" width="1" height="2" fill="#008000"/>
<rect x="1107" y="126" width="1" height="5" fill="#008000"/>
<rect x="1106" y="122" width="1" height="4" fill="#008000"/>
<rect x="1108" y="122" width="1" height="4" fill="#008000"/>
<rect x="1107" y="122" width="1" height="1" fill="#008000"/>
<rect x="1107" y="125" width="1" height="1" fill="#008000"/>
<rect x="1110" y="118" width="1" height="4" fill="#FF0000"/>
<rect x="1110" y="125" width="1" height="2" fill="#FF0000"/>
<rect x="1109" y="122" width="3" height="3" fill="#FF0000"/>
<rect x="1114" y="120" width="1" height="1" fill="#008000"/>
<rect x="1114" y="124" width="1" height="1" fill="#008000"/>
<rect x="1113" y="121" width="1" height="3" fill="#008000"/>
<rect x="1115" y="121" width="1" height="3" fill="#008000"/>
<rect x="1114" y="121" width="1" height="1" fill="#008000"/>
<rect x="1114" y="123" width="1" height="1" fill="#008000"/>
<rect x="1117" y="118" width="1" height="2" fill="#FF0000"/>
<rect x="1116" y="120" width="3" height="2" fill="#FF0000"/>
<rect x="1121" y="117" width="1" height="5" fill="#FF0000"/>
<rect x="1121" y="129" width="1" height="8" fill="#FF0000"/>
<rect x="1120" y="122" width="3" height="7" fill="#FF0000"/>
<rect x="1124" y="131" width="1" height="9" fill="#FF0000"/>
<rect x="1123" y="129" width="3" height="2" fill="#FF0000"/>
<rect x="1128" y="126" width="1" height="5" fill="#FF0000"/>
<rect x="1128" y="134" width="1" height="1" fill="#FF0000"/>
<rect x="1127" y="131" width="3" height="3" fill="#FF0000"/>
<rect x="1131" y="123" width="1" height="1" fill="#008000"/>
<rect x="1131" y="133" width="1" height="1" fill="#008000"/>
<rect x="1130" y="124" width="1" height="9" fill="#008000"/>
<rect x="1132" y="124" width="1" height="9" fill="#008000"/>
<rect x="1131" y="124" width="1" height="1" fill="#008000"/>
<rect x="1131" y="132" width="1" height="1" fill="#008000"/>
<rect x="1135" y="124" width="1" height="1" fill="#FF0000"/>
<rect x="1135" y="129" width="1" height="2" fill="#FF0000"/>
<rect x="1134" y="125" width="3" height="4" fill="#FF0000"/>
<rect x="1138" y="125" width="1" height="4" fill="#FF0000"/>
<rect x="1138" y="135" width="1" height="1" fill="#FF0000"/>
<rect x="1137" y="129" width="3" height="6" fill="#FF0000"/>
<rect x="1142" y="130" width="1" height="5" fill="#FF0000"/>
<rect x="1142" y="143" width="1" height="3" fill="#FF0000"/>
<rect x="1141" y="135" width="3" height="8" fill="#FF0000"/>
<rect x="1145" y="133" width="1" height="4" fill="#008000"/>
<rect x="1145" y="143" width="1" height="4" fill="#008000"/>
<rect x="1144" y="137" width="1" height="6" fill="#008000"/>
<rect x="1146" y="137" width="1" height="6" fill="#008000"/>
<rect x="1145" y="137" width="1" height="1" fill="#008000"/>
<rect x="1145" y="142" width="1" height="1" fill="#008000"/>
<rect x="1149" y="137" width="1" height="2" fill="#FF0000"/>
<rect x="1149" y="143" width="1" height="1" fill="#FF0000"/>
<rect x="1148" y="139" width="3" height="4" fill="#FF0000"/>
<rect x="1152" y="144" width="1" height="1" fill="#FF0000"/>
<rect x="1152" y="149" width="1" height="1" fill="#FF0000"/>
<rect x="1151" y="145" width="3" height="4" fill="#FF0000"/>
<rect x="1156" y="138" width="1" height="8" fill="#008000"/>
<rect x="1156" y="149" width="1" height="1" fill="#008000"/>
<rect x="1155" y="146" width="1" height="3" fill="#008000"/>
<rect x="1157" y="146" width="1" height="3" fill="#008000"/>
<rect x="1156" y="146" width="1" height="1" fill="#008000"/>
<rect x="1156" y="148" width="1" height="1" fill="#008000"/>
<rect x="1159" y="142" width="1" height="3" fill="#008000"/>
<rect x="1158" y="145" width="3" height="2" fill="#008000"/>
<rect x="1162" y="143" width="1" height="7" fill="#008000"/>
<rect x="1164" y="143" width="1" height="7" fill="#008000"/>
<rect x="1163" y="143" width="1" height="1" fill="#008000"/>
<rect x="1163" y="149" width="1" height="1" fill="#008000"/>
<rect x="1166" y="133" width="1" height="1" fill="#008000"/>
<rect x="1165" y="134" width="1" height="9" fill="#008000"/>
<rect x="1167" y="134" width="1" height="9" fill="#008000"/>
<rect x="1166" y="134" width="1" height="1" fill="#008000"/>
<rect x="1166" y="142" width="1" height="1" fill="#008000"/>
<rect x="1169" y="128" width="1" height="5" fill="#008000"/>
<rect x="1169" y="135" width="1" height="5" fill="#008000"/>
<rect x="1168" y="133" width="3" height="2" fill="#008000"/>
<rect x="1173" y="132" width="1" height="2" fill="#FF0000"/>
<rect x="1173" y="138" width="1" height="1" fill="#FF0000"/>
<rect x="1172" y="134" width="3" height="4" fill="#FF0000"/>
<rect x="1177" y="135" width="1" height="1" fill="#FF0000"/>
<rect x="1177" y="140" width="1" height="1" fill="#FF0000"/>
<rect x="1176" y="136" width="3" height="4" fill="#FF0000"/>
<rect x="1181" y="138" width="1" height="3" fill="#FF0000"/>
<rect x="1180" y="141" width="3" height="3" fill="#FF0000"/>
<rect x="1185" y="138" width="1" height="6" fill="#FF0000"/>
<rect x="1185" y="146" width="1" height="4" fill="#FF0000"/>
<rect x="1184" y="144" width="3" height="2" fill="#FF0000"/>
<rect x="1189" y="142" width="1" height="3" fill="#FF0000"/>
<rect x="1188" y="145" width="3" height="2" fill="#FF0000"/>
<rect x="1193" y="144" width="1" height="1" fill="#FF0000"/>
<rect x="1192" y="145" width="3" height="4" fill="#FF0000"/>
<rect x="1197" y="148" width="1" height="1" fill="#008000"/>
<rect x="1196" y="134" width="1" height="14" fill="#008000"/>
<rect x="1198" y="134" width="1" height="14" fill="#008000"/>
<rect x="1197" y="134" width="1" height="1" fill="#008000"/>
<rect x="1197" y="147" width="1" height="1" fill="#008000"/>
<rect x="1201" y="134" width="1" height="1" fill="#FF0000"/>
<rect x="1201" y="139" width="1" height="3" fill="#FF0000"/>
<rect x="1200" y="135" width="3" height="4" fill="#FF0000"/>
<rect x="1204" y="135" width="1" height="2" fill="#FF0000"/>
<rect x="1203" y="137" width="3" height="6" fill="#FF0000"/>
<rect x="1208" y="139" width="1" height="1" fill="#008000"/>
<rect x="1208" y="141" width="1" height="2" fill="#008000"/>
<rect x="1207" y="140" width="3" height="1" fill="#008000"/>
<rect x="1211" y="128" width="1" height="1" fill="#008000"/>
<rect x="1211" y="140" width="1" height="1" fill="#008000"/>
<rect x="1210" y="129" width="1" height="11" fill="#008000"/>
<rect x="1212" y="129" width="1" height="11" fill="#008000"/>
<rect x="1211" y="129" width="1" height="1" fill="#008000"/>
<rect x="1211" y="139" width="1" height="1" fill="#008000"/>
<rect x="1215" y="113" width="1" height="1" fill="#008000"/>
<rect x="1215" y="129" width="1" height="5" fill="#008000"/>
<rect x="1214" y="114" width="1" height="15" fill="#008000"/>
<rect x="1216" y="114" width="1" height="15" fill="#008000"/>
<rect x="1215" y="114" width="1" height="1" fill="#008000"/>
<rect x="1215" y="128" width="1" height="1" fill="#008000"/>
<rect x="1218" y="110" width="1" height="1" fill="#FF0000"/>
<rect x="1218" y="112" width="1" height="4" fill="#FF0000"/>
<rect x="1217" y="111" width="3" height="1" fill="#FF0000"/>
<rect x="1222" y="106" width="1" height="1" fill="#008000"/>
<rect x="1222" y="111" width="1" height="4" fill="#008000"/>
<rect x="1221" y="107" width="1" height="4" fill="#008000"/>
<rect x="1223" y="107" width="1" height="4" fill="#008000"/>
<rect x="1222" y="107" width="1" height="1" fill="#008000"/>
<rect x="1222" y="110" width="1" height="1" fill="#008000"/>
<rect x="1225" y="91" width="1" height="8" fill="#008000"/>
<rect x="1225" y="109" width="1" height="1" fill="#008000"/>
<rect x="1224" y="99" width="1" height="10" fill="#008000"/>
<rect x="1226" y="99" width="1" height="10" fill="#008000"/>
<rect x="1225" y="99" width="1" height="1" fill="#008000"/>
<rect x="1225" y="108" width="1" height="1" fill="#008000"/>
<rect x="1228" y="94" width="1" height="5" fill="#FF0000"/>
<rect x="1228" y="100" width="1" height="4" fill="#FF0000"/>
<rect x="1227" y="99" width="3" height="1" fill="#FF0000"/>
<rect x="1232" y="101" width="1" height="9" fill="#008000"/>
<rect x="1231" y="99" width="3" height="2" fill="#008000"/>
<rect x="1235" y="99" width="1" height="1" fill="#FF0000"/>
<rect x="1235" y="102" width="1" height="4" fill="#FF0000"/>
<rect x="1234" y="100" width="3" height="2" fill="#FF0000"/>
<rect x="1239" y="98" width="1" height="5" fill="#FF0000"/>
<rect x="1239" y="105" width="1" height="1" fill="#FF0000"/>
<rect x="1238" y="103" width="3" height="2" fill="#FF0000"/>
<rect x="1242" y="90" width="1" height="1" fill="#008000"/>
<rect x="1242" y="102" width="1" height="1" fill="#008000"/>
<rect x="1241" y="91" width="1" height="11" fill="#008000"/>
<rect x="1243" y="91" width="1" height="11" fill="#008000"/>
<rect x="1242" y="91" width="1" height="1" fill="#008000"/>
<rect x="1242" y="101" width="1" height="1" fill="#008000"/>
<rect x="1246" y="90" width="1" height="1" fill="#008000"/>
<rect x="1246" y="92" width="1" height="7" fill="#008000"/>
<rect x="1245" y="91" width="3" height="1" fill="#008000"/>
<rect x="1249" y="78" width="1" height="5" fill="#008000"/>
<rect x="1249" y="90" width="1" height="2" fill="#008000"/>
<rect x="1248" y="83" width="1" height="7" fill="#008000"/>
<rect x="1250" y="83" width="1" height="7" fill="#008000"/>
<rect x="1249" y="83" width="1" height="1" fill="#008000"/>
<rect x="1249" y="89" width="1" height="1" fill="#008000"/>
<rect x="1253" y="82" width="1" height="24" fill="#008000"/>
<rect x="1252" y="63" width="1" height="19" fill="#008000"/>
<rect x="1254" y="63" width="1" height="19" fill="#008000"/>
<rect x="1253" y="63" width="1" height="1" fill="#008000"/>
<rect x="1253" y="81" width="1" height="1" fill="#008000"/>
<rect x="1256" y="59" width="1" height="1" fill="#008000"/>
<rect x="1256" y="66" width="1" height="1" fill="#008000"/>
<rect x="1255" y="60" width="1" height="6" fill="#008000"/>
<rect x="1257" y="60" width="1" height="6" fill="#008000"/>
<rect x="1256" y="60" width="1" height="1" fill="#008000"/>
<rect x="1256" y="65" width="1" height="1" fill="#008000"/>
<rect x="1260" y="54" width="1" height="1" fill="#008000"/>
<rect x="1260" y="60" width="1" height="26" fill="#008000"/>
<rect x="1259" y="55" width="1" height="5" fill="#008000"/>
<rect x="1261" y="55" width="1" height="5" fill="#008000"/>
<rect x="1260" y="55" width="1" height="1" fill="#008000"/>
<rect x="1260" y="59" width="1" height="1" fill="#008000"/>
<rect x="1263" y="46" width="1" height="1" fill="#008000"/>
<rect x="1263" y="48" width="1" height="6" fill="#008000"/>
<rect x="1262" y="47" width="3" height="1" fill="#008000"/>
<rect x="1267" y="51" width="1" height="1" fill="#FF0000"/>
<rect x="1267" y="63" width="1" height="5" fill="#FF0000"/>
<rect x="1266" y="52" width="3" height="11" fill="#FF0000"/>
<rect x="1270" y="65" width="1" height="6" fill="#008000"/>
<rect x="1269" y="60" width="1" height="5" fill="#008000"/>
<rect x="1271" y="60" width="1" height="5" fill="#008000"/>
<rect x="1270" y="60" width="1" height="1" fill="#008000"/>
<rect x="1270" y="64" width="1" height="1" fill="#008000"/>
<rect x="1274" y="47" width="1" height="11" fill="#FF0000"/>
<rect x="1274" y="60" width="1" height="7" fill="#FF0000"/>
<rect x="1273" y="58" width="3" height="2" fill="#FF0000"/>
<rect x="1277" y="54" width="1" height="5" fill="#FF0000"/>
<rect x="1277" y="62" width="1" height="5" fill="#FF0000"/>
<rect x="1276" y="59" width="3" height="3" fill="#FF0000"/>
<rect x="1281" y="55" width="1" height="2" fill="#008000"/>
<rect x="1281" y="62" width="1" height="4" fill="#008000"/>
<rect x="1280" y="57" width="1" height="5" fill="#008000"/>
<rect x="1282" y="57" width="1" height="5" fill="#008000"/>
<rect x="1281" y="57" width="1" height="1" fill="#008000"/>
<rect x="1281" y="61" width="1" height="1" fill="#008000"/>
<rect x="1284" y="56" width="1" height="1" fill="#FF0000"/>
<rect x="1284" y="60" width="1" height="5" fill="#FF0000"/>
<rect x="1283" y="57" width="3" height="3" fill="#FF0000"/>
<rect x="1287" y="53" width="1" height="5" fill="#008000"/>
<rect x="1287" y="59" width="1" height="5" fill="#008000"/>
<rect x="1286" y="58" width="3" height="1" fill="#008000"/>
<rect x="1291" y="57" width="1" height="1" fill="#FF0000"/>
<rect x="1291" y="59" width="1" height="11" fill="#FF0000"/>
<rect x="1290" y="58" width="3" height="1" fill="#FF0000"/>
<rect x="1294" y="54" width="1" height="5" fill="#FF0000"/>
<rect x="1294" y="62" width="1" height="3" fill="#FF0000"/>
<rect x="1293" y="59" width="3" height="3" fill="#FF0000"/>
<rect x="1298" y="57" width="1" height="5" fill="#FF0000"/>
<rect x="1298" y="63" width="1" height="2" fill="#FF0000"/>
<rect x="1297" y="62" width="3" height="1" fill="#FF0000"/>
<rect x="1301" y="60" width="1" height="1" fill="#FF0000"/>
<rect x="1301" y="63" width="1" height="2" fill="#FF0000"/>
<rect x="1300" y="61" width="3" height="2" fill="#FF0000"/>
<rect x="1305" y="60" width="1" height="2" fill="#008000"/>
<rect x="1304" y="53" width="1" height="7" fill="#008000"/>
<rect x="1306" y="53" width="1" height="7" fill="#008000"/>
<rect x="1305" y="53" width="1" height="1" fill="#008000"/>
<rect x="1305" y="59" width="1" height="1" fill="#008000"/>
<rect x="1308" y="47" width="1" height="5" fill="#FF0000"/>
<rect x="1307" y="52" width="3" height="4" fill="#FF0000"/>
<rect x="1312" y="53" width="1" height="4" fill="#FF0000"/>
<rect x="1312" y="58" width="1" height="6" fill="#FF0000"/>
<rect x="1311" y="57" width="3" height="1" fill="#FF0000"/>
<rect x="1315" y="54" width="1" height="4" fill="#FF0000"/>
<rect x="1315" y="64" width="1" height="5" fill="#FF0000"/>
<rect x="1314" y="58" width="3" height="6" fill="#FF0000"/>
<rect x="1319" y="62" width="1" height="3" fill="#FF0000"/>
<rect x="1319" y="76" width="1" height="4" fill="#FF0000"/>
<rect x="1318" y="65" width="3" height="11" fill="#FF0000"/>
<rect x="1322" y="78" width="1" height="1" fill="#FF0000"/>
<rect x="1322" y="82" width="1" height="8" fill="#FF0000"/>
<rect x="1321" y="79" width="3" height="3" fill="#FF0000"/>
<rect x="1326" y="75" width="1" height="8" fill="#FF0000"/>
<rect x="1326" y="84" width="1" height="5" fill="#FF0000"/>
<rect x="1325" y="83" width="3" height="1" fill="#FF0000"/>
<rect x="1329" y="82" width="1" height="2" fill="#FF0000"/>
<rect x="1328" y="84" width="3" height="12" fill="#FF0000"/>
<rect x="1333" y="87" width="1" height="8" fill="#008000"/>
<rect x="1333" y="96" width="1" height="14" fill="#008000"/>
<rect x="1332" y="95" width="3" height="1" fill="#008000"/>
<rect x="1336" y="94" width="1" height="1" fill="#FF0000"/>
<rect x="1336" y="101" width="1" height="12" fill="#FF0000"/>
<rect x="1335" y="95" width="3" height="6" fill="#FF0000"/>
<rect x="1340" y="94" width="1" height="6" fill="#FF0000"/>
<rect x="1340" y="101" width="1" height="4" fill="#FF0000"/>
<rect x="1339" y="100" width="3" height="1" fill="#FF0000"/>
<rect x="1343" y="91" width="1" height="4" fill="#008000"/>
<rect x="1343" y="100" width="1" height="1" fill="#008000"/>
<rect x="1342" y="95" width="1" height="5" fill="#008000"/>
<rect x="1344" y="95" width="1" height="5" fill="#008000"/>
<rect x="1343" y="95" width="1" height="1" fill="#008000"/>
<rect x="1343" y="99" width="1" height="1" fill="#008000"/>
<rect x="1346" y="96" width="1" height="3" fill="#FF0000"/>
<rect x="1346" y="109" width="1" height="3" fill="#FF0000"/>
<rect x="1345" y="99" width="3" height="10" fill="#FF0000"/>
<rect x="1350" y="97" width="1" height="3" fill="#008000"/>
<rect x="1350" y="109" width="1" height="1" fill="#008000"/>
<rect x="1349" y="100" width="1" height="9" fill="#008000"/>
<rect x="1351" y="100" width="1" height="9" fill="#008000"/>
<rect x="1350" y="100" width="1" height="1" fill="#008000"/>
<rect x="1350" y="108" width="1" height="1" fill="#008000"/>
<rect x="1353" y="95" width="1" height="4" fill="#008000"/>
<rect x="1353" y="100" width="1" height="6" fill="#008000"/>
<rect x="1352" y="99" width="3" height="1" fill="#008000"/>
<rect x="1357" y="79" width="1" height="1" fill="#008000"/>
<rect x="1357" y="97" width="1" height="1" fill="#008000"/>
<rect x="1356" y="80" width="1" height="17" fill="#008000"/>
<rect x="1358" y="80" width="1" height="17" fill="#008000"/>
<rect x="1357" y="80" width="1" height="1" fill="#008000"/>
<rect x="1357" y="96" width="1" height="1" fill="#008000"/>
<rect x="1360" y="64" width="1" height="4" fill="#008000"/>
<rect x="1360" y="81" width="1" height="1" fill="#008000"/>
<rect x="1359" y="68" width="1" height="13" fill="#008000"/>
<rect x="1361" y="68" width="1" height="13" fill="#008000"/>
<rect x="1360" y="68" width="1" height="1" fill="#008000"/>
<rect x="1360" y="80" width="1" height="1" fill="#008000"/>
<rect x="1364" y="51" width="1" height="1" fill="#008000"/>
<rect x="1364" y="68" width="1" height="2" fill="#008000"/>
<rect x="1363" y="52" width="1" height="16" fill="#008000"/>
<rect x="1365" y="52" width="1" height="16" fill="#008000"/>
<rect x="1364" y="52" width="1" height="1" fill="#008000"/>
<rect x="1364" y="67" width="1" height="1" fill="#008000"/>
<rect x="1367" y="48" width="1" height="4" fill="#FF0000"/>
<rect x="1367" y="64" width="1" height="2" fill="#FF0000"/>
<rect x="1366" y="52" width="3" height="12" fill="#FF0000"/>
<rect x="1371" y="49" width="1" height="1" fill="#008000"/>
<rect x="1371" y="53" width="1" height="13" fill="#008000"/>
<rect x="1370" y="50" width="1" height="3" fill="#008000"/>
<rect x="1372" y="50" width="1" height="3" fill="#008000"/>
<rect x="1371" y="50" width="1" height="1" fill="#008000"/>
<rect x="1371" y="52" width="1" height="1" fill="#008000"/>
<rect x="1374" y="49" width="1" height="2" fill="#FF0000"/>
<rect x="1374" y="53" width="1" height="20" fill="#FF0000"/>
<rect x="1373" y="51" width="3" height="2" fill="#FF0000"/>
<rect x="1378" y="53" width="1" height="1" fill="#FF0000"/>
<rect x="1378" y="65" width="1" height="4" fill="#FF0000"/>
<rect x="1377" y="54" width="3" height="11" fill="#FF0000"/>
<rect x="1381" y="59" width="1" height="9" fill="#FF0000"/>
<rect x="1381" y="74" width="1" height="3" fill="#FF0000"/>
<rect x="1380" y="68" width="3" height="6" fill="#FF0000"/>
<rect x="1385" y="68" width="1" height="4" fill="#008000"/>
<rect x="1385" y="73" width="1" height="9" fill="#008000"/>
<rect x="1384" y="72" width="3" height="1" fill="#008000"/>
<rect x="1388" y="66" width="1" height="3" fill="#008000"/>
<rect x="1388" y="70" width="1" height="11" fill="#008000"/>
<rect x="1387" y="69" width="3" height="1" fill="#008000"/>
<rect x="1392" y="33" width="1" height="4" fill="#008000"/>
<rect x="1392" y="57" width="1" height="1" fill="#008000"/>
<rect x="1391" y="37" width="1" height="20" fill="#008000"/>
<rect x="1393" y="37" width="1" height="20" fill="#008000"/>
<rect x="1392" y="37" width="1" height="1" fill="#008000"/>
<rect x="1392" y="56" width="1" height="1" fill="#008000"/>
<rect x="1395" y="24" width="1" height="10" fill="#FF0000"/>
<rect x="1395" y="38" width="1" height="6" fill="#FF0000"/>
<rect x="1394" y="34" width="3" height="4" fill="#FF0000"/>
<rect x="1397" y="16" width="1" height="22" fill="#008000"/>
<rect x="1399" y="16" width="1" height="22" fill="#008000"/>
<rect x="1398" y="16" width="1" height="1" fill="#008000"/>
<rect x="1398" y="37" width="1" height="1" fill="#008000"/>
<rect x="1402" y="11" width="1" height="5" fill="#FF0000"/>
<rect x="1402" y="29" width="1" height="7" fill="#FF0000"/>
<rect x="1401" y="16" width="3" height="13" fill="#FF0000"/>
<rect x="1405" y="24" width="1" height="1" fill="#FF0000"/>
<rect x="1405" y="43" width="1" height="12" fill="#FF0000"/>
<rect x="1404" y="25" width="3" height="18" fill="#FF0000"/>
<rect x="1409" y="42" width="1" height="2" fill="#FF0000"/>
<rect x="1409" y="70" width="1" height="2" fill="#FF0000"/>
<rect x="1408" y="44" width="3" height="26" fill="#FF0000"/>
<rect x="1412" y="61" width="1" height="6" fill="#008000"/>
<rect x="1412" y="69" width="1" height="25" fill="#008000"/>
<rect x="1411" y="67" width="3" height="2" fill="#008000"/>
<rect x="1416" y="61" width="1" height="7" fill="#FF0000"/>
<rect x="1416" y="69" width="1" height="4" fill="#FF0000"/>
<rect x="1415" y="68" width="3" height="1" fill="#FF0000"/>
<rect x="1419" y="67" width="1" height="3" fill="#FF0000"/>
<rect x="1419" y="72" width="1" height="10" fill="#FF0000"/>
<rect x="1418" y="70" width="3" height="2" fill="#FF0000"/>
<rect x="1423" y="48" width="1" height="9" fill="#008000"/>
<rect x="1423" y="63" width="1" height="1" fill="#008000"/>
<rect x="1422" y="57" width="1" height="6" fill="#008000"/>
<rect x="1424" y="57" width="1" height="6" fill="#008000"/>
<rect x="1423" y="57" width="1" height="1" fill="#008000"/>
<rect x="1423" y="62" width="1" height="1" fill="#008000"/>
<rect x="1426" y="49" width="1" height="2" fill="#FF0000"/>
<rect x="1426" y="61" width="1" height="3" fill="#FF0000"/>
<rect x="1425" y="51" width="3" height="10" fill="#FF0000"/>
<rect x="1430" y="60" width="1" height="3" fill="#008000"/>
<rect x="1429" y="55" width="1" height="5" fill="#008000"/>
<rect x="1431" y="55" width="1" height="5" fill="#008000"/>
<rect x="1430" y="55" width="1" height="1" fill="#008000"/>
<rect x="1430" y="59" width="1" height="1" fill="#008000"/>
<rect x="1433" y="69" width="1" height="4" fill="#FF0000"/>
<rect x="1432" y="55" width="3" height="14" fill="#FF0000"/>
<rect x="1437" y="61" width="1" height="5" fill="#FF0000"/>
<rect x="1437" y="68" width="1" height="7" fill="#FF0000"/>
<rect x="1436" y="66" width="3" height="2" fill="#FF0000"/>
<rect x="1440" y="69" width="1" height="9" fill="#FF0000"/>
<rect x="1439" y="78" width="3" height="13" fill="#FF0000"/>
<rect x="1444" y="86" width="1" height="3" fill="#FF0000"/>
<rect x="1444" y="95" width="1" height="4" fill="#FF0000"/>
<rect x="1443" y="89" width="3" height="6" fill="#FF0000"/>
<rect x="1447" y="92" width="1" height="12" fill="#008000"/>
<rect x="1446" y="69" width="1" height="23" fill="#008000"/>
<rect x="1448" y="69" width="1" height="23" fill="#008000"/>
<rect x="1447" y="69" width="1" height="1" fill="#008000"/>
<rect x="1447" y="91" width="1" height="1" fill="#008000"/>
<rect x="1451" y="65" width="1" height="5" fill="#FF0000"/>
<rect x="1451" y="80" width="1" height="4" fill="#FF0000"/>
<rect x="1450" y="70" width="3" height="10" fill="#FF0000"/>
<rect x="1454" y="81" width="1" height="5" fill="#FF0000"/>
<rect x="1454" y="94" width="1" height="3" fill="#FF0000"/>
<rect x="1453" y="86" width="3" height="8" fill="#FF0000"/>
<rect x="1457" y="86" width="1" height="9" fill="#FF0000"/>
<rect x="1457" y="102" width="1" height="1" fill="#FF0000"/>
<rect x="1456" y="95" width="3" height="7" fill="#FF0000"/>
<rect x="954" y="150" width="232" height="2" fill="#000080"/>
<g shape-rendering="crispEdges" fill="none" stroke-linecap="butt" stroke-linejoin="round">
<line x1="309" y1="203.5" x2="1465.8" y2="11.55" stroke="#000" stroke-width="2.3"/>
<line x1="349" y1="293.5" x2="1466.6" y2="103.65" stroke="#000" stroke-width="2.3"/>
<line x1="694.3" y1="170.4" x2="697.7" y2="167.4" stroke="#000" stroke-width="2.2"/>
</g>
<g shape-rendering="geometricPrecision">
<line x1="1403.3" y1="12.8" x2="1407.9" y2="22.6" stroke="#FF00FF" stroke-width="1.4" stroke-dasharray="1.3,0.9"/>
<path d="M1409.2 21.8 L1412.5 25 L1409.2 28.2 L1405.9 25Z M1409.2 23.9 L1408.2 25 L1409.2 26.1 L1410.2 25Z" fill="#0B9565" fill-rule="evenodd"/>
<line x1="1083.4" y1="109.2" x2="1085.7" y2="112.4" stroke="#FF00FF" stroke-width="0.9"/>
</g>
<rect x="76" y="395" width="1" height="1" fill="#008000"/>
<rect x="80" y="394" width="1" height="2" fill="#FF0000"/>
<rect x="83" y="395" width="1" height="1" fill="#008000"/>
<rect x="87" y="394" width="1" height="2" fill="#FF0000"/>
<rect x="90" y="395" width="1" height="1" fill="#FF0000"/>
<rect x="93" y="394" width="1" height="2" fill="#008000"/>
<rect x="97" y="395" width="1" height="1" fill="#008000"/>
<rect x="101" y="395" width="1" height="1" fill="#008000"/>
<rect x="104" y="395" width="1" height="1" fill="#008000"/>
<rect x="108" y="395" width="1" height="1" fill="#FF0000"/>
<rect x="111" y="394" width="1" height="2" fill="#008000"/>
<rect x="115" y="394" width="1" height="2" fill="#FF0000"/>
<rect x="118" y="394" width="1" height="2" fill="#008000"/>
<rect x="122" y="395" width="1" height="1" fill="#FF0000"/>
<rect x="125" y="395" width="1" height="1" fill="#008000"/>
<rect x="128" y="394" width="1" height="2" fill="#008000"/>
<rect x="132" y="394" width="1" height="2" fill="#FF0000"/>
<rect x="135" y="394" width="1" height="2" fill="#FF0000"/>
<rect x="139" y="394" width="1" height="2" fill="#FF0000"/>
<rect x="142" y="395" width="1" height="1" fill="#FF0000"/>
<rect x="146" y="395" width="1" height="1" fill="#008000"/>
<rect x="149" y="394" width="1" height="2" fill="#FF0000"/>
<rect x="153" y="394" width="1" height="2" fill="#FF0000"/>
<rect x="156" y="394" width="1" height="2" fill="#008000"/>
<rect x="159" y="372" width="1" height="24" fill="#008000"/>
<rect x="163" y="394" width="1" height="2" fill="#008000"/>
<rect x="167" y="395" width="1" height="1" fill="#FF0000"/>
<rect x="170" y="395" width="1" height="1" fill="#008000"/>
<rect x="173" y="395" width="1" height="1" fill="#008000"/>
<rect x="177" y="395" width="1" height="1" fill="#008000"/>
<rect x="181" y="395" width="1" height="1" fill="#008000"/>
<rect x="184" y="394" width="1" height="2" fill="#008000"/>
<rect x="188" y="395" width="1" height="1" fill="#FF0000"/>
<rect x="191" y="395" width="1" height="1" fill="#FF0000"/>
<rect x="194" y="394" width="1" height="2" fill="#FF0000"/>
<rect x="198" y="395" width="1" height="1" fill="#008000"/>
<rect x="201" y="395" width="1" height="1" fill="#008000"/>
<rect x="205" y="394" width="1" height="2" fill="#FF0000"/>
<rect x="208" y="395" width="1" height="1" fill="#008000"/>
<rect x="212" y="395" width="1" height="1" fill="#FF0000"/>
<rect x="215" y="394" width="1" height="2" fill="#FF0000"/>
<rect x="219" y="395" width="1" height="1" fill="#008000"/>
<rect x="222" y="395" width="1" height="1" fill="#008000"/>
<rect x="226" y="395" width="1" height="1" fill="#008000"/>
<rect x="229" y="395" width="1" height="1" fill="#008000"/>
<rect x="233" y="394" width="1" height="2" fill="#008000"/>
<rect x="236" y="391" width="1" height="5" fill="#008000"/>
<rect x="240" y="392" width="1" height="4" fill="#008000"/>
<rect x="243" y="387" width="1" height="9" fill="#008000"/>
<rect x="246" y="394" width="1" height="2" fill="#008000"/>
<rect x="250" y="392" width="1" height="4" fill="#FF0000"/>
<rect x="253" y="393" width="1" height="3" fill="#FF0000"/>
<rect x="257" y="392" width="1" height="4" fill="#008000"/>
<rect x="260" y="341" width="1" height="55" fill="#008000"/>
<rect x="260" y="317" width="1" height="2" fill="#008000"/>
<rect x="264" y="394" width="1" height="2" fill="#FF0000"/>
<rect x="267" y="393" width="1" height="3" fill="#008000"/>
<rect x="271" y="391" width="1" height="5" fill="#008000"/>
<rect x="274" y="394" width="1" height="2" fill="#008000"/>
<rect x="278" y="386" width="1" height="10" fill="#FF0000"/>
<rect x="281" y="393" width="1" height="3" fill="#008000"/>
<rect x="285" y="389" width="1" height="7" fill="#008000"/>
<rect x="288" y="388" width="1" height="8" fill="#008000"/>
<rect x="292" y="391" width="1" height="5" fill="#008000"/>
<rect x="295" y="392" width="1" height="4" fill="#008000"/>
<rect x="299" y="390" width="1" height="6" fill="#008000"/>
<rect x="302" y="384" width="1" height="12" fill="#FF0000"/>
<rect x="305" y="386" width="1" height="10" fill="#FF0000"/>
<rect x="309" y="383" width="1" height="13" fill="#FF0000"/>
<rect x="312" y="390" width="1" height="6" fill="#FF0000"/>
<rect x="316" y="392" width="1" height="4" fill="#008000"/>
<rect x="319" y="392" width="1" height="4" fill="#FF0000"/>
<rect x="323" y="392" width="1" height="4" fill="#008000"/>
<rect x="326" y="394" width="1" height="2" fill="#008000"/>
<rect x="330" y="392" width="1" height="4" fill="#008000"/>
<rect x="333" y="394" width="1" height="2" fill="#008000"/>
<rect x="337" y="391" width="1" height="5" fill="#FF0000"/>
<rect x="340" y="393" width="1" height="3" fill="#008000"/>
<rect x="344" y="393" width="1" height="3" fill="#FF0000"/>
<rect x="347" y="392" width="1" height="4" fill="#008000"/>
<rect x="350" y="394" width="1" height="2" fill="#FF0000"/>
<rect x="353" y="393" width="1" height="3" fill="#008000"/>
<rect x="357" y="394" width="1" height="2" fill="#008000"/>
<rect x="361" y="391" width="1" height="5" fill="#FF0000"/>
<rect x="364" y="394" width="1" height="2" fill="#FF0000"/>
<rect x="367" y="395" width="1" height="1" fill="#008000"/>
<rect x="371" y="391" width="1" height="5" fill="#008000"/>
<rect x="375" y="393" width="1" height="3" fill="#FF0000"/>
<rect x="378" y="395" width="1" height="1" fill="#008000"/>
<rect x="382" y="393" width="1" height="3" fill="#FF0000"/>
<rect x="385" y="394" width="1" height="2" fill="#FF0000"/>
<rect x="389" y="393" width="1" height="3" fill="#008000"/>
<rect x="392" y="392" width="1" height="4" fill="#008000"/>
<rect x="396" y="392" width="1" height="4" fill="#008000"/>
<rect x="399" y="392" width="1" height="4" fill="#008000"/>
<rect x="403" y="394" width="1" height="2" fill="#008000"/>
<rect x="406" y="391" width="1" height="5" fill="#FF0000"/>
<rect x="410" y="393" width="1" height="3" fill="#008000"/>
<rect x="413" y="391" width="1" height="5" fill="#008000"/>
<rect x="416" y="391" width="1" height="5" fill="#008000"/>
<rect x="420" y="394" width="1" height="2" fill="#008000"/>
<rect x="423" y="392" width="1" height="4" fill="#008000"/>
<rect x="427" y="389" width="1" height="7" fill="#008000"/>
<rect x="430" y="388" width="1" height="8" fill="#008000"/>
<rect x="434" y="390" width="1" height="6" fill="#FF0000"/>
<rect x="437" y="389" width="1" height="7" fill="#FF0000"/>
<rect x="441" y="390" width="1" height="6" fill="#008000"/>
<rect x="444" y="391" width="1" height="5" fill="#008000"/>
<rect x="448" y="388" width="1" height="8" fill="#008000"/>
<rect x="451" y="391" width="1" height="5" fill="#FF0000"/>
<rect x="455" y="390" width="1" height="6" fill="#008000"/>
<rect x="458" y="392" width="1" height="4" fill="#008000"/>
<rect x="462" y="392" width="1" height="4" fill="#FF0000"/>
<rect x="465" y="389" width="1" height="7" fill="#008000"/>
<rect x="469" y="391" width="1" height="5" fill="#FF0000"/>
<rect x="472" y="395" width="1" height="1" fill="#FF0000"/>
<rect x="476" y="392" width="1" height="4" fill="#008000"/>
<rect x="479" y="388" width="1" height="8" fill="#008000"/>
<rect x="482" y="387" width="1" height="9" fill="#008000"/>
<rect x="486" y="345" width="1" height="51" fill="#FF0000"/>
<rect x="489" y="392" width="1" height="4" fill="#008000"/>
<rect x="493" y="389" width="1" height="7" fill="#FF0000"/>
<rect x="496" y="381" width="1" height="15" fill="#008000"/>
<rect x="500" y="380" width="1" height="16" fill="#008000"/>
<rect x="503" y="387" width="1" height="9" fill="#008000"/>
<rect x="507" y="393" width="1" height="3" fill="#008000"/>
<rect x="510" y="382" width="1" height="14" fill="#008000"/>
<rect x="514" y="385" width="1" height="11" fill="#FF0000"/>
<rect x="517" y="382" width="1" height="14" fill="#008000"/>
<rect x="521" y="381" width="1" height="15" fill="#FF0000"/>
<rect x="524" y="392" width="1" height="4" fill="#FF0000"/>
<rect x="528" y="390" width="1" height="6" fill="#008000"/>
<rect x="531" y="394" width="1" height="2" fill="#FF0000"/>
<rect x="534" y="393" width="1" height="3" fill="#FF0000"/>
<rect x="538" y="349" width="1" height="47" fill="#FF0000"/>
<rect x="541" y="393" width="1" height="3" fill="#008000"/>
<rect x="545" y="384" width="1" height="12" fill="#008000"/>
<rect x="548" y="380" width="1" height="16" fill="#FF0000"/>
<rect x="552" y="387" width="1" height="9" fill="#008000"/>
<rect x="555" y="386" width="1" height="10" fill="#008000"/>
<rect x="559" y="392" width="1" height="4" fill="#008000"/>
<rect x="562" y="392" width="1" height="4" fill="#FF0000"/>
<rect x="566" y="385" width="1" height="11" fill="#008000"/>
<rect x="569" y="385" width="1" height="11" fill="#008000"/>
<rect x="573" y="388" width="1" height="8" fill="#008000"/>
<rect x="576" y="393" width="1" height="3" fill="#008000"/>
<rect x="580" y="389" width="1" height="7" fill="#FF0000"/>
<rect x="583" y="383" width="1" height="13" fill="#008000"/>
<rect x="587" y="384" width="1" height="12" fill="#FF0000"/>
<rect x="590" y="386" width="1" height="10" fill="#FF0000"/>
<rect x="593" y="388" width="1" height="8" fill="#FF0000"/>
<rect x="597" y="383" width="1" height="13" fill="#FF0000"/>
<rect x="600" y="386" width="1" height="10" fill="#008000"/>
<rect x="604" y="389" width="1" height="7" fill="#008000"/>
<rect x="607" y="390" width="1" height="6" fill="#FF0000"/>
<rect x="611" y="393" width="1" height="3" fill="#FF0000"/>
<rect x="614" y="388" width="1" height="8" fill="#008000"/>
<rect x="618" y="390" width="1" height="6" fill="#FF0000"/>
<rect x="621" y="392" width="1" height="4" fill="#008000"/>
<rect x="625" y="390" width="1" height="6" fill="#FF0000"/>
<rect x="628" y="393" width="1" height="3" fill="#FF0000"/>
<rect x="632" y="390" width="1" height="6" fill="#008000"/>
<rect x="635" y="391" width="1" height="5" fill="#008000"/>
<rect x="639" y="392" width="1" height="4" fill="#008000"/>
<rect x="642" y="390" width="1" height="6" fill="#008000"/>
<rect x="646" y="392" width="1" height="4" fill="#008000"/>
<rect x="649" y="392" width="1" height="4" fill="#FF0000"/>
<rect x="652" y="394" width="1" height="2" fill="#008000"/>
<rect x="656" y="393" width="1" height="3" fill="#FF0000"/>
<rect x="659" y="394" width="1" height="2" fill="#008000"/>
<rect x="663" y="393" width="1" height="3" fill="#FF0000"/>
<rect x="666" y="391" width="1" height="5" fill="#FF0000"/>
<rect x="670" y="391" width="1" height="5" fill="#008000"/>
<rect x="673" y="393" width="1" height="3" fill="#008000"/>
<rect x="677" y="394" width="1" height="2" fill="#008000"/>
<rect x="680" y="389" width="1" height="7" fill="#008000"/>
<rect x="684" y="392" width="1" height="4" fill="#008000"/>
<rect x="687" y="394" width="1" height="2" fill="#008000"/>
<rect x="691" y="391" width="1" height="5" fill="#008000"/>
<rect x="694" y="363" width="1" height="33" fill="#008000"/>
<rect x="698" y="386" width="1" height="10" fill="#008000"/>
<rect x="701" y="390" width="1" height="6" fill="#FF0000"/>
<rect x="705" y="394" width="1" height="2" fill="#FF0000"/>
<rect x="708" y="383" width="1" height="13" fill="#FF0000"/>
<rect x="711" y="387" width="1" height="9" fill="#008000"/>
<rect x="715" y="391" width="1" height="5" fill="#008000"/>
<rect x="718" y="393" width="1" height="3" fill="#FF0000"/>
<rect x="722" y="394" width="1" height="2" fill="#FF0000"/>
<rect x="725" y="391" width="1" height="5" fill="#008000"/>
<rect x="729" y="392" width="1" height="4" fill="#FF0000"/>
<rect x="732" y="392" width="1" height="4" fill="#008000"/>
<rect x="736" y="394" width="1" height="2" fill="#FF0000"/>
<rect x="739" y="395" width="1" height="1" fill="#008000"/>
<rect x="743" y="391" width="1" height="5" fill="#FF0000"/>
<rect x="746" y="393" width="1" height="3" fill="#008000"/>
<rect x="750" y="392" width="1" height="4" fill="#FF0000"/>
<rect x="753" y="390" width="1" height="6" fill="#008000"/>
<rect x="757" y="392" width="1" height="4" fill="#FF0000"/>
<rect x="760" y="393" width="1" height="3" fill="#008000"/>
<rect x="764" y="392" width="1" height="4" fill="#008000"/>
<rect x="767" y="395" width="1" height="1" fill="#FF0000"/>
<rect x="770" y="394" width="1" height="2" fill="#FF0000"/>
<rect x="774" y="394" width="1" height="2" fill="#FF0000"/>
<rect x="777" y="392" width="1" height="4" fill="#FF0000"/>
<rect x="781" y="392" width="1" height="4" fill="#FF0000"/>
<rect x="784" y="392" width="1" height="4" fill="#008000"/>
<rect x="788" y="386" width="1" height="10" fill="#008000"/>
<rect x="791" y="388" width="1" height="8" fill="#FF0000"/>
<rect x="795" y="391" width="1" height="5" fill="#008000"/>
<rect x="798" y="375" width="1" height="21" fill="#FF0000"/>
<rect x="802" y="391" width="1" height="5" fill="#008000"/>
<rect x="805" y="387" width="1" height="9" fill="#008000"/>
<rect x="809" y="386" width="1" height="10" fill="#FF0000"/>
<rect x="812" y="389" width="1" height="7" fill="#008000"/>
<rect x="816" y="391" width="1" height="5" fill="#008000"/>
<rect x="819" y="391" width="1" height="5" fill="#008000"/>
<rect x="822" y="389" width="1" height="7" fill="#008000"/>
<rect x="826" y="390" width="1" height="6" fill="#008000"/>
<rect x="829" y="389" width="1" height="7" fill="#FF0000"/>
<rect x="833" y="391" width="1" height="5" fill="#FF0000"/>
<rect x="836" y="394" width="1" height="2" fill="#FF0000"/>
<rect x="840" y="392" width="1" height="4" fill="#008000"/>
<rect x="843" y="391" width="1" height="5" fill="#FF0000"/>
<rect x="847" y="391" width="1" height="5" fill="#008000"/>
<rect x="850" y="393" width="1" height="3" fill="#008000"/>
<rect x="854" y="395" width="1" height="1" fill="#FF0000"/>
<rect x="857" y="391" width="1" height="5" fill="#008000"/>
<rect x="861" y="392" width="1" height="4" fill="#FF0000"/>
<rect x="864" y="390" width="1" height="6" fill="#008000"/>
<rect x="868" y="393" width="1" height="3" fill="#008000"/>
<rect x="871" y="395" width="1" height="1" fill="#008000"/>
<rect x="875" y="391" width="1" height="5" fill="#008000"/>
<rect x="878" y="392" width="1" height="4" fill="#FF0000"/>
<rect x="881" y="389" width="1" height="7" fill="#008000"/>
<rect x="885" y="388" width="1" height="8" fill="#008000"/>
<rect x="888" y="394" width="1" height="2" fill="#FF0000"/>
<rect x="892" y="392" width="1" height="4" fill="#FF0000"/>
<rect x="895" y="393" width="1" height="3" fill="#008000"/>
<rect x="899" y="392" width="1" height="4" fill="#008000"/>
<rect x="902" y="392" width="1" height="4" fill="#008000"/>
<rect x="906" y="382" width="1" height="14" fill="#008000"/>
<rect x="909" y="381" width="1" height="15" fill="#008000"/>
<rect x="913" y="381" width="1" height="15" fill="#FF0000"/>
<rect x="916" y="377" width="1" height="19" fill="#FF0000"/>
<rect x="920" y="393" width="1" height="3" fill="#FF0000"/>
<rect x="923" y="388" width="1" height="8" fill="#008000"/>
<rect x="927" y="392" width="1" height="4" fill="#FF0000"/>
<rect x="930" y="388" width="1" height="8" fill="#008000"/>
<rect x="934" y="388" width="1" height="8" fill="#008000"/>
<rect x="937" y="384" width="1" height="12" fill="#FF0000"/>
<rect x="940" y="381" width="1" height="15" fill="#FF0000"/>
<rect x="944" y="387" width="1" height="9" fill="#FF0000"/>
<rect x="947" y="390" width="1" height="6" fill="#FF0000"/>
<rect x="951" y="388" width="1" height="8" fill="#008000"/>
<rect x="954" y="394" width="1" height="2" fill="#008000"/>
<rect x="958" y="392" width="1" height="4" fill="#008000"/>
<rect x="961" y="388" width="1" height="8" fill="#008000"/>
<rect x="965" y="390" width="1" height="6" fill="#008000"/>
<rect x="968" y="392" width="1" height="4" fill="#FF0000"/>
<rect x="972" y="394" width="1" height="2" fill="#008000"/>
<rect x="975" y="393" width="1" height="3" fill="#008000"/>
<rect x="979" y="392" width="1" height="4" fill="#FF0000"/>
<rect x="982" y="392" width="1" height="4" fill="#008000"/>
<rect x="986" y="391" width="1" height="5" fill="#FF0000"/>
<rect x="989" y="393" width="1" height="3" fill="#008000"/>
<rect x="993" y="393" width="1" height="3" fill="#008000"/>
<rect x="996" y="390" width="1" height="6" fill="#FF0000"/>
<rect x="999" y="381" width="1" height="15" fill="#008000"/>
<rect x="1003" y="387" width="1" height="9" fill="#FF0000"/>
<rect x="1006" y="394" width="1" height="2" fill="#FF0000"/>
<rect x="1010" y="387" width="1" height="9" fill="#FF0000"/>
<rect x="1013" y="391" width="1" height="5" fill="#008000"/>
<rect x="1017" y="390" width="1" height="6" fill="#FF0000"/>
<rect x="1020" y="391" width="1" height="5" fill="#008000"/>
<rect x="1024" y="391" width="1" height="5" fill="#FF0000"/>
<rect x="1027" y="388" width="1" height="8" fill="#008000"/>
<rect x="1031" y="388" width="1" height="8" fill="#008000"/>
<rect x="1034" y="384" width="1" height="12" fill="#008000"/>
<rect x="1038" y="387" width="1" height="9" fill="#008000"/>
<rect x="1041" y="381" width="1" height="15" fill="#008000"/>
<rect x="1045" y="389" width="1" height="7" fill="#008000"/>
<rect x="1048" y="387" width="1" height="9" fill="#008000"/>
<rect x="1052" y="392" width="1" height="4" fill="#FF0000"/>
<rect x="1055" y="390" width="1" height="6" fill="#FF0000"/>
<rect x="1058" y="386" width="1" height="10" fill="#008000"/>
<rect x="1062" y="391" width="1" height="5" fill="#FF0000"/>
<rect x="1065" y="390" width="1" height="6" fill="#008000"/>
<rect x="1069" y="389" width="1" height="7" fill="#008000"/>
<rect x="1072" y="392" width="1" height="4" fill="#008000"/>
<rect x="1076" y="390" width="1" height="6" fill="#FF0000"/>
<rect x="1079" y="393" width="1" height="3" fill="#FF0000"/>
<rect x="1083" y="391" width="1" height="5" fill="#FF0000"/>
<rect x="1086" y="391" width="1" height="5" fill="#FF0000"/>
<rect x="1090" y="391" width="1" height="5" fill="#008000"/>
<rect x="1093" y="391" width="1" height="5" fill="#FF0000"/>
<rect x="1097" y="394" width="1" height="2" fill="#008000"/>
<rect x="1100" y="390" width="1" height="6" fill="#FF0000"/>
<rect x="1104" y="391" width="1" height="5" fill="#FF0000"/>
<rect x="1107" y="391" width="1" height="5" fill="#008000"/>
<rect x="1110" y="350" width="1" height="46" fill="#FF0000"/>
<rect x="1114" y="393" width="1" height="3" fill="#008000"/>
<rect x="1117" y="392" width="1" height="4" fill="#008000"/>
<rect x="1121" y="392" width="1" height="4" fill="#FF0000"/>
<rect x="1124" y="385" width="1" height="11" fill="#FF0000"/>
<rect x="1128" y="392" width="1" height="4" fill="#FF0000"/>
<rect x="1131" y="394" width="1" height="2" fill="#008000"/>
<rect x="1135" y="389" width="1" height="7" fill="#FF0000"/>
<rect x="1138" y="391" width="1" height="5" fill="#FF0000"/>
<rect x="1142" y="386" width="1" height="10" fill="#FF0000"/>
<rect x="1145" y="387" width="1" height="9" fill="#008000"/>
<rect x="1149" y="392" width="1" height="4" fill="#FF0000"/>
<rect x="1152" y="386" width="1" height="10" fill="#FF0000"/>
<rect x="1156" y="388" width="1" height="8" fill="#008000"/>
<rect x="1159" y="392" width="1" height="4" fill="#008000"/>
<rect x="1163" y="387" width="1" height="9" fill="#008000"/>
<rect x="1166" y="393" width="1" height="3" fill="#008000"/>
<rect x="1169" y="392" width="1" height="4" fill="#008000"/>
<rect x="1173" y="381" width="1" height="15" fill="#FF0000"/>
<rect x="1177" y="390" width="1" height="6" fill="#008000"/>
<rect x="1181" y="394" width="1" height="2" fill="#FF0000"/>
<rect x="1185" y="392" width="1" height="4" fill="#FF0000"/>
<rect x="1189" y="393" width="1" height="3" fill="#FF0000"/>
<rect x="1193" y="392" width="1" height="4" fill="#FF0000"/>
<rect x="1197" y="391" width="1" height="5" fill="#008000"/>
<rect x="1201" y="395" width="1" height="1" fill="#FF0000"/>
<rect x="1204" y="393" width="1" height="3" fill="#FF0000"/>
<rect x="1208" y="392" width="1" height="4" fill="#008000"/>
<rect x="1211" y="387" width="1" height="9" fill="#008000"/>
<rect x="1215" y="387" width="1" height="9" fill="#008000"/>
<rect x="1218" y="393" width="1" height="3" fill="#008000"/>
<rect x="1222" y="391" width="1" height="5" fill="#008000"/>
<rect x="1225" y="391" width="1" height="5" fill="#008000"/>
<rect x="1228" y="390" width="1" height="6" fill="#FF0000"/>
<rect x="1232" y="392" width="1" height="4" fill="#FF0000"/>
<rect x="1235" y="392" width="1" height="4" fill="#FF0000"/>
<rect x="1239" y="391" width="1" height="5" fill="#FF0000"/>
<rect x="1242" y="384" width="1" height="12" fill="#008000"/>
<rect x="1246" y="384" width="1" height="12" fill="#008000"/>
<rect x="1249" y="390" width="1" height="6" fill="#008000"/>
<rect x="1253" y="380" width="1" height="16" fill="#008000"/>
<rect x="1256" y="383" width="1" height="13" fill="#008000"/>
<rect x="1260" y="386" width="1" height="10" fill="#008000"/>
<rect x="1263" y="381" width="1" height="15" fill="#008000"/>
<rect x="1267" y="387" width="1" height="9" fill="#FF0000"/>
<rect x="1270" y="383" width="1" height="13" fill="#008000"/>
<rect x="1274" y="371" width="1" height="25" fill="#008000"/>
<rect x="1277" y="373" width="1" height="23" fill="#FF0000"/>
<rect x="1281" y="384" width="1" height="12" fill="#008000"/>
<rect x="1284" y="390" width="1" height="6" fill="#FF0000"/>
<rect x="1287" y="384" width="1" height="12" fill="#008000"/>
<rect x="1291" y="386" width="1" height="10" fill="#008000"/>
<rect x="1294" y="389" width="1" height="7" fill="#FF0000"/>
<rect x="1298" y="385" width="1" height="11" fill="#FF0000"/>
<rect x="1301" y="388" width="1" height="8" fill="#FF0000"/>
<rect x="1305" y="388" width="1" height="8" fill="#008000"/>
<rect x="1308" y="386" width="1" height="10" fill="#FF0000"/>
<rect x="1312" y="384" width="1" height="12" fill="#FF0000"/>
<rect x="1315" y="383" width="1" height="13" fill="#FF0000"/>
<rect x="1319" y="391" width="1" height="5" fill="#FF0000"/>
<rect x="1322" y="386" width="1" height="10" fill="#FF0000"/>
<rect x="1326" y="385" width="1" height="11" fill="#FF0000"/>
<rect x="1329" y="387" width="1" height="9" fill="#FF0000"/>
<rect x="1333" y="360" width="1" height="36" fill="#FF0000"/>
<rect x="1336" y="388" width="1" height="8" fill="#FF0000"/>
<rect x="1340" y="388" width="1" height="8" fill="#FF0000"/>
<rect x="1343" y="385" width="1" height="11" fill="#008000"/>
<rect x="1346" y="384" width="1" height="12" fill="#FF0000"/>
<rect x="1350" y="383" width="1" height="13" fill="#008000"/>
<rect x="1353" y="391" width="1" height="5" fill="#008000"/>
<rect x="1357" y="385" width="1" height="11" fill="#008000"/>
<rect x="1360" y="372" width="1" height="24" fill="#008000"/>
<rect x="1364" y="383" width="1" height="13" fill="#008000"/>
<rect x="1367" y="382" width="1" height="14" fill="#FF0000"/>
<rect x="1371" y="385" width="1" height="11" fill="#008000"/>
<rect x="1374" y="385" width="1" height="11" fill="#FF0000"/>
<rect x="1378" y="390" width="1" height="6" fill="#FF0000"/>
<rect x="1381" y="386" width="1" height="10" fill="#FF0000"/>
<rect x="1385" y="389" width="1" height="7" fill="#008000"/>
<rect x="1388" y="390" width="1" height="6" fill="#008000"/>
<rect x="1392" y="374" width="1" height="22" fill="#008000"/>
<rect x="1395" y="379" width="1" height="17" fill="#FF0000"/>
<rect x="1398" y="382" width="1" height="14" fill="#008000"/>
<rect x="1402" y="384" width="1" height="12" fill="#FF0000"/>
<rect x="1405" y="376" width="1" height="20" fill="#FF0000"/>
<rect x="1409" y="383" width="1" height="13" fill="#FF0000"/>
<rect x="1412" y="373" width="1" height="23" fill="#008000"/>
<rect x="1416" y="387" width="1" height="9" fill="#FF0000"/>
<rect x="1419" y="388" width="1" height="8" fill="#FF0000"/>
<rect x="1423" y="382" width="1" height="14" fill="#008000"/>
<rect x="1426" y="384" width="1" height="12" fill="#FF0000"/>
<rect x="1430" y="390" width="1" height="6" fill="#008000"/>
<rect x="1433" y="388" width="1" height="8" fill="#FF0000"/>
<rect x="1437" y="375" width="1" height="21" fill="#008000"/>
<rect x="1440" y="384" width="1" height="12" fill="#FF0000"/>
<rect x="1444" y="387" width="1" height="9" fill="#FF0000"/>
<rect x="1447" y="367" width="1" height="29" fill="#008000"/>
<rect x="1451" y="380" width="1" height="16" fill="#FF0000"/>
<rect x="1454" y="388" width="1" height="8" fill="#FF0000"/>
<rect x="73" y="458" width="18" height="1" fill="#FF0000"/>
<rect x="97" y="458" width="18" height="1" fill="#FF0000"/>
<rect x="121" y="458" width="18" height="1" fill="#FF0000"/>
<rect x="145" y="458" width="18" height="1" fill="#FF0000"/>
<rect x="169" y="458" width="18" height="1" fill="#FF0000"/>
<rect x="193" y="458" width="18" height="1" fill="#FF0000"/>
<rect x="217" y="458" width="18" height="1" fill="#FF0000"/>
<rect x="241" y="458" width="18" height="1" fill="#FF0000"/>
<rect x="265" y="458" width="18" height="1" fill="#FF0000"/>
<rect x="289" y="458" width="18" height="1" fill="#FF0000"/>
<rect x="313" y="458" width="18" height="1" fill="#FF0000"/>
<rect x="337" y="458" width="18" height="1" fill="#FF0000"/>
<rect x="361" y="458" width="18" height="1" fill="#FF0000"/>
<rect x="385" y="458" width="18" height="1" fill="#FF0000"/>
<rect x="409" y="458" width="18" height="1" fill="#FF0000"/>
<rect x="433" y="458" width="18" height="1" fill="#FF0000"/>
<rect x="457" y="458" width="18" height="1" fill="#FF0000"/>
<rect x="481" y="458" width="18" height="1" fill="#FF0000"/>
<rect x="505" y="458" width="18" height="1" fill="#FF0000"/>
<rect x="529" y="458" width="18" height="1" fill="#FF0000"/>
<rect x="553" y="458" width="18" height="1" fill="#FF0000"/>
<rect x="577" y="458" width="18" height="1" fill="#FF0000"/>
<rect x="601" y="458" width="18" height="1" fill="#FF0000"/>
<rect x="625" y="458" width="18" height="1" fill="#FF0000"/>
<rect x="649" y="458" width="18" height="1" fill="#FF0000"/>
<rect x="673" y="458" width="18" height="1" fill="#FF0000"/>
<rect x="697" y="458" width="18" height="1" fill="#FF0000"/>
<rect x="721" y="458" width="18" height="1" fill="#FF0000"/>
<rect x="745" y="458" width="18" height="1" fill="#FF0000"/>
<rect x="769" y="458" width="18" height="1" fill="#FF0000"/>
<rect x="793" y="458" width="18" height="1" fill="#FF0000"/>
<rect x="817" y="458" width="18" height="1" fill="#FF0000"/>
<rect x="841" y="458" width="18" height="1" fill="#FF0000"/>
<rect x="865" y="458" width="18" height="1" fill="#FF0000"/>
<rect x="889" y="458" width="18" height="1" fill="#FF0000"/>
<rect x="913" y="458" width="18" height="1" fill="#FF0000"/>
<rect x="937" y="458" width="18" height="1" fill="#FF0000"/>
<rect x="961" y="458" width="18" height="1" fill="#FF0000"/>
<rect x="985" y="458" width="18" height="1" fill="#FF0000"/>
<rect x="1009" y="458" width="18" height="1" fill="#FF0000"/>
<rect x="1033" y="458" width="18" height="1" fill="#FF0000"/>
<rect x="1057" y="458" width="18" height="1" fill="#FF0000"/>
<rect x="1081" y="458" width="18" height="1" fill="#FF0000"/>
<rect x="1105" y="458" width="18" height="1" fill="#FF0000"/>
<rect x="1129" y="458" width="18" height="1" fill="#FF0000"/>
<rect x="1153" y="458" width="18" height="1" fill="#FF0000"/>
<rect x="1177" y="458" width="18" height="1" fill="#FF0000"/>
<rect x="1201" y="458" width="18" height="1" fill="#FF0000"/>
<rect x="1225" y="458" width="18" height="1" fill="#FF0000"/>
<rect x="1249" y="458" width="18" height="1" fill="#FF0000"/>
<rect x="1273" y="458" width="18" height="1" fill="#FF0000"/>
<rect x="1297" y="458" width="18" height="1" fill="#FF0000"/>
<rect x="1321" y="458" width="18" height="1" fill="#FF0000"/>
<rect x="1345" y="458" width="18" height="1" fill="#FF0000"/>
<rect x="1369" y="458" width="18" height="1" fill="#FF0000"/>
<rect x="1393" y="458" width="18" height="1" fill="#FF0000"/>
<rect x="1417" y="458" width="18" height="1" fill="#FF0000"/>
<rect x="1441" y="458" width="18" height="1" fill="#FF0000"/>
<rect x="1465" y="458" width="18" height="1" fill="#FF0000"/>
<rect x="1489" y="458" width="6" height="1" fill="#FF0000"/>
<rect x="73" y="570" width="18" height="1" fill="#FF0000"/>
<rect x="97" y="570" width="18" height="1" fill="#FF0000"/>
<rect x="121" y="570" width="18" height="1" fill="#FF0000"/>
<rect x="145" y="570" width="18" height="1" fill="#FF0000"/>
<rect x="169" y="570" width="18" height="1" fill="#FF0000"/>
<rect x="193" y="570" width="18" height="1" fill="#FF0000"/>
<rect x="217" y="570" width="18" height="1" fill="#FF0000"/>
<rect x="241" y="570" width="18" height="1" fill="#FF0000"/>
<rect x="265" y="570" width="18" height="1" fill="#FF0000"/>
<rect x="289" y="570" width="18" height="1" fill="#FF0000"/>
<rect x="313" y="570" width="18" height="1" fill="#FF0000"/>
<rect x="337" y="570" width="18" height="1" fill="#FF0000"/>
<rect x="361" y="570" width="18" height="1" fill="#FF0000"/>
<rect x="385" y="570" width="18" height="1" fill="#FF0000"/>
<rect x="409" y="570" width="18" height="1" fill="#FF0000"/>
<rect x="433" y="570" width="18" height="1" fill="#FF0000"/>
<rect x="457" y="570" width="18" height="1" fill="#FF0000"/>
<rect x="481" y="570" width="18" height="1" fill="#FF0000"/>
<rect x="505" y="570" width="18" height="1" fill="#FF0000"/>
<rect x="529" y="570" width="18" height="1" fill="#FF0000"/>
<rect x="553" y="570" width="18" height="1" fill="#FF0000"/>
<rect x="577" y="570" width="18" height="1" fill="#FF0000"/>
<rect x="601" y="570" width="18" height="1" fill="#FF0000"/>
<rect x="625" y="570" width="18" height="1" fill="#FF0000"/>
<rect x="649" y="570" width="18" height="1" fill="#FF0000"/>
<rect x="673" y="570" width="18" height="1" fill="#FF0000"/>
<rect x="697" y="570" width="18" height="1" fill="#FF0000"/>
<rect x="721" y="570" width="18" height="1" fill="#FF0000"/>
<rect x="745" y="570" width="18" height="1" fill="#FF0000"/>
<rect x="769" y="570" width="18" height="1" fill="#FF0000"/>
<rect x="793" y="570" width="18" height="1" fill="#FF0000"/>
<rect x="817" y="570" width="18" height="1" fill="#FF0000"/>
<rect x="841" y="570" width="18" height="1" fill="#FF0000"/>
<rect x="865" y="570" width="18" height="1" fill="#FF0000"/>
<rect x="889" y="570" width="18" height="1" fill="#FF0000"/>
<rect x="913" y="570" width="18" height="1" fill="#FF0000"/>
<rect x="937" y="570" width="18" height="1" fill="#FF0000"/>
<rect x="961" y="570" width="18" height="1" fill="#FF0000"/>
<rect x="985" y="570" width="18" height="1" fill="#FF0000"/>
<rect x="1009" y="570" width="18" height="1" fill="#FF0000"/>
<rect x="1033" y="570" width="18" height="1" fill="#FF0000"/>
<rect x="1057" y="570" width="18" height="1" fill="#FF0000"/>
<rect x="1081" y="570" width="18" height="1" fill="#FF0000"/>
<rect x="1105" y="570" width="18" height="1" fill="#FF0000"/>
<rect x="1129" y="570" width="18" height="1" fill="#FF0000"/>
<rect x="1153" y="570" width="18" height="1" fill="#FF0000"/>
<rect x="1177" y="570" width="18" height="1" fill="#FF0000"/>
<rect x="1201" y="570" width="18" height="1" fill="#FF0000"/>
<rect x="1225" y="570" width="18" height="1" fill="#FF0000"/>
<rect x="1249" y="570" width="18" height="1" fill="#FF0000"/>
<rect x="1273" y="570" width="18" height="1" fill="#FF0000"/>
<rect x="1297" y="570" width="18" height="1" fill="#FF0000"/>
<rect x="1321" y="570" width="18" height="1" fill="#FF0000"/>
<rect x="1345" y="570" width="18" height="1" fill="#FF0000"/>
<rect x="1369" y="570" width="18" height="1" fill="#FF0000"/>
<rect x="1393" y="570" width="18" height="1" fill="#FF0000"/>
<rect x="1417" y="570" width="18" height="1" fill="#FF0000"/>
<rect x="1441" y="570" width="18" height="1" fill="#FF0000"/>
<rect x="1465" y="570" width="18" height="1" fill="#FF0000"/>
<rect x="1489" y="570" width="6" height="1" fill="#FF0000"/>
<g shape-rendering="crispEdges">
<polyline points="171.1,457.4 177.5,460.2 189.5,460.2 196.8,456.5 202.4,449.5 211.6,441.2 220.8,432.0 228.1,427.1 237.3,425.6 245.6,425.6 253.0,429.3 259.4,430.7 265.0,431.5 276.0,432.6 292.6,432.0 300.9,428.9 305.8,427.8 314.7,433.0 329.4,440.7 342.3,452.3 349.6,461.5 355.1,465.1 362.5,465.1 371.7,467.9 379.1,471.2 387.3,472.0 393.8,468.8 401.1,464.2 410.3,458.7 419.5,452.3 428.7,443.1 436.1,435.7 447.1,432.0 458.2,431.1 469.2,431.5 480.2,436.3 489.4,437.6 504.1,435.7 518.9,434.8 529.9,435.3 541.0,438.1 555.8,443.1 566.8,450.1 579.7,450.1 588.9,446.7 603.6,447.7 616.5,449.5 625.7,454.1 633.0,462.4 640.4,467.9 651.4,467.5 666.1,465.7 675.3,461.5 688.2,453.2 702.9,448.6 721.3,446.7 734.2,449.5 745.2,455.9 754.4,462.0 765.5,463.9 776.5,467.9 786.6,469.4 794.9,464.6 804.2,459.6 817.1,455.4 827.2,449.5 833.6,444.5 850.2,445.5 868.6,446.7 877.8,449.5 888.8,446.2 899.9,439.4 910.9,432.6 920.1,428.9 927.5,428.0 936.6,431.1 945.8,438.8 955.0,450.4 962.4,458.3 971.6,462.4 982.6,464.2 993.7,459.6 1002.9,452.3 1010.2,447.3 1023.1,447.7 1037.8,446.2 1048.9,449.5 1058.1,448.6 1065.0,446.0 1072.9,441.2 1080.2,441.2 1089.4,444.9 1102.3,455.0 1115.2,466.1 1126.2,473.4 1137.3,473.8 1163.0,473.4 1177.7,470.7 1194.3,468.8 1207.2,463.3 1223.7,455.0 1232.0,447.7 1241.2,439.4 1250.4,435.7 1264.2,425.2 1275.2,424.3 1285.4,424.3 1295.5,427.1 1305.6,434.8 1320.3,446.7 1331.4,459.6 1346.1,477.5 1357.1,483.5 1366.3,481.7 1373.7,477.1 1382.9,468.8 1393.9,456.5 1403.1,446.2 1408.6,444.0 1416.0,445.5 1425.2,449.1 1434.4,451.0 1441.7,455.9 1450.9,464.2 1457.4,467.5" fill="none" stroke="#808000" stroke-width="1" stroke-linejoin="round" stroke-linecap="round"/>
<polyline points="75.4,451.3 80.0,459.6 83.7,456.9 87.9,460.0 92.0,453.2 97.1,437.6 102.1,431.7 104.9,433.0 108.2,438.8 117.7,438.8 125.6,448.6 129.3,442.7 132.1,446.7 136.1,439.8 139.8,440.3 143.1,444.0 147.2,455.9 149.9,462.4 153.1,481.7 156.0,467.9 160.0,467.5 163.4,464.6 167.4,469.7 173.8,472.0 176.6,467.0 179.4,453.2 182.1,444.0 185.8,437.6 190.4,432.6 194.1,433.5 197.8,425.6 201.1,413.1 204.6,420.1 207.9,421.0 213.4,428.9 216.7,428.9 220.8,425.2 227.2,426.5 232.7,427.8 237.3,426.5 244.7,426.5 250.2,442.7 256.6,440.7 260.3,430.2 265.0,431.1 273.3,431.1 277.9,438.8 281.6,431.1 285.2,425.6 288.9,424.7 294.4,419.7 299.0,411.8 301.4,420.1 304.6,442.2 308.2,455.0 311.9,460.0 316.0,451.9 318.3,458.3 330.3,457.8 336.7,467.5 343.2,475.3 347.4,479.9 350.5,478.9 355.1,469.7 358.5,460.9 361.0,459.6 364.3,477.1 367.6,467.0 371.1,462.0 375.4,470.7 380.0,477.1 382.7,478.0 386.0,471.6 390.1,466.1 392.5,453.2 396.0,451.3 399.3,441.2 403.0,437.0 406.3,446.2 410.3,438.8 415.8,434.2 421.0,433.3 423.6,424.7 426.9,423.8 430.0,417.9 434.2,420.1 437.0,437.6 447.1,436.6 451.7,438.8 455.4,433.0 461.8,435.7 468.3,434.8 472.9,440.7 479.3,443.6 483.0,434.8 486.7,431.1 489.8,433.0 493.5,438.8 498.6,433.9 504.1,431.7 507.8,431.1 510.6,428.7 514.3,431.5 517.4,428.9 519.8,433.9 523.8,443.4 528.1,444.0 531.7,447.3 533.7,446.2 538.3,449.5 541.4,446.7 545.6,447.3 548.4,451.7 554.8,451.7 562.2,457.8 566.2,464.6 569.2,449.9 575.1,441.8 580.6,438.1 583.3,421.9 587.4,436.6 590.3,437.0 593.5,457.8 597.1,460.9 600.8,457.8 604.5,457.8 608.2,462.4 614.6,462.8 618.3,468.8 621.4,467.0 625.7,473.4 629.3,477.1 632.5,486.7 635.8,478.0 639.5,477.5 642.6,462.4 646.3,451.9 650.5,459.6 655.1,459.6 659.7,451.9 662.8,457.8 666.5,457.2 670.7,459.6 674.4,451.9 677.7,442.7 684.5,443.1 690.0,442.7 694.6,448.0 698.3,438.8 701.1,442.2 705.7,443.1 708.1,461.5 714.0,448.0 717.6,447.7 722.2,450.4 725.4,450.4 729.6,456.9 737.9,463.3 743.4,473.4 746.7,484.5 750.2,484.8 753.5,473.4 757.6,458.7 759.0,462.4 764.5,462.0 770.1,464.2 774.7,472.5 778.3,473.4 781.7,476.2 784.8,471.6 787.5,452.3 791.2,446.2 795.8,444.9 802.0,451.9 805.1,442.2 809.3,453.6 826.3,435.2 830.0,435.2 833.6,439.9 835.8,451.9 840.1,450.4 843.7,452.6 847.4,446.7 850.7,446.7 854.2,457.8 857.5,440.9 864.0,447.7 872.3,455.9 875.9,455.9 879.6,451.3 885.1,427.1 887.9,431.1 896.2,423.4 899.5,421.0 902.6,413.1 910.0,411.8 913.7,419.2 916.4,432.0 920.1,443.1 923.8,443.1 927.5,452.6 932.0,448.0 934.8,448.0 937.6,457.8 944.0,464.2 946.8,471.2 950.4,472.0 954.7,474.9 960.6,469.4 967.9,457.2 972.0,459.1 975.3,451.0 978.6,462.4 982.6,462.0 986.3,447.7 990.0,440.3 997.4,430.2 1000.1,430.7 1004.7,437.6 1008.4,445.8 1010.6,452.8 1017.2,460.5 1020.3,457.8 1024.4,462.8 1027.2,451.7 1031.4,450.4 1034.5,446.2 1037.8,448.6 1042.4,442.2 1046.7,438.8 1053.5,442.7 1058.4,435.3 1061.7,440.3 1064.6,436.3 1070.1,435.7 1072.5,432.0 1074.7,439.4 1078.4,451.3 1084.8,460.5 1090.4,475.3 1096.8,478.6 1106.9,478.6 1112.4,473.8 1117.0,473.8 1121.6,478.9 1129.0,472.5 1131.7,461.5 1135.4,461.5 1138.7,472.5 1142.8,474.9 1151.1,474.9 1156.6,478.0 1163.9,476.7 1168.5,463.3 1173.1,463.3 1175.9,461.1 1180.5,472.0 1185.1,470.7 1190.6,463.3 1194.3,472.0 1197.0,450.4 1200.7,448.6 1204.4,455.0 1207.2,453.2 1212.7,446.2 1218.2,443.1 1222.8,435.7 1227.4,431.5 1232.0,428.9 1239.4,428.4 1242.7,423.8 1246.7,425.6 1253.2,412.3 1263.3,413.1 1267.0,430.7 1275.2,433.9 1279.8,433.5 1283.5,431.5 1288.1,431.1 1295.5,438.8 1299.1,444.9 1301.9,457.2 1305.6,451.9 1312.4,469.4 1315.3,462.0 1319.4,475.3 1322.1,480.4 1325.8,481.1 1329.5,491.8 1332.3,491.8 1336.0,494.6 1340.6,494.6 1343.3,488.1 1346.1,490.0 1350.7,482.6 1353.4,489.4 1357.1,472.5 1361.7,459.6 1364.9,452.6 1367.2,452.3 1370.9,444.9 1377.4,444.9 1381.4,449.1 1387.5,446.2 1391.2,439.4 1395.8,430.2 1398.5,430.2 1403.1,437.6 1405.9,447.3 1409.0,456.9 1412.3,462.8 1416.0,460.9 1419.7,466.1 1425.2,457.8 1430.3,452.6 1433.5,457.2 1437.2,457.8 1440.3,478.6 1446.4,478.6 1454.6,476.7 1457.0,472.5" fill="none" stroke="#000" stroke-width="2.2" stroke-linejoin="round" stroke-linecap="round"/>
<polyline points="81.1,572.4 93.6,570.7 107.0,567.4 122.1,563.2 133.8,562.4 147.2,562.9 160.5,564.9 173.9,566.6 187.3,566.2 200.7,562.4 214.0,558.2 230.8,556.9 240.0,556.2 250.0,554.5 265.1,554.9 278.5,556.2 290.2,554.5 302.7,548.2 308.6,548.5 320.3,552.3 333.6,559.0 347.0,564.9 360.4,570.7 373.8,574.4 385.5,576.3 397.2,575.8 407.2,571.6 418.9,564.9 430.6,554.9 440.7,549.8 449.0,547.3 460.7,542.3 474.1,538.5 480.0,538.5 495.0,537.3 510.1,534.0 520.1,530.3 530.2,530.1 538.5,533.1 548.6,538.1 560.3,541.5 572.0,542.8 582.0,541.5 588.7,539.0 593.7,539.5 605.4,545.7 617.1,555.7 628.8,567.4 637.2,574.1 643.0,576.3 650.6,575.8 660.6,572.9 670.6,572.4 680.7,573.6 690.7,571.6 699.1,565.7 707.4,561.5 714.1,560.2 720.0,561.2 733.4,564.9 745.1,568.2 753.4,571.6 765.2,572.4 775.2,574.1 785.2,576.6 795.3,574.1 807.0,567.4 818.7,562.4 827.0,556.5 833.7,552.3 840.4,551.2 862.1,551.5 880.5,551.2 893.9,549.0 905.6,543.2 915.7,535.6 922.3,534.0 932.4,536.5 939.1,540.6 950.8,552.3 959.1,559.9 965.8,562.4 970.0,562.4 986.8,561.2 998.5,556.2 1008.5,552.8 1018.5,555.2 1028.6,557.4 1040.3,555.2 1050.3,545.7 1060.3,538.1 1068.7,536.1 1075.4,536.8 1083.7,540.6 1093.8,549.8 1102.1,555.2 1110.5,561.5 1120.5,566.6 1130.6,571.6 1140.6,575.3 1150.6,580.3 1159.0,585.3 1165.7,587.5 1177.4,586.6 1194.1,586.3 1202.5,585.0 1213.4,580.8 1223.4,571.6 1233.4,559.0 1248.5,545.7 1263.5,527.3 1273.6,518.9 1281.9,516.1 1293.6,518.1 1307.0,523.1 1317.1,529.8 1327.1,539.8 1335.5,553.2 1345.5,567.4 1352.2,575.3 1358.9,578.3 1367.2,574.1 1375.6,566.2 1383.9,562.4 1392.3,559.0 1400.7,549.8 1407.4,544.5 1412.4,544.0 1424.1,550.7 1435.8,556.2 1447.3,567.2 1450.6,568.0 1457.7,576.6" fill="none" stroke="#008000" stroke-width="1" stroke-linejoin="round" stroke-linecap="round"/>
<polyline points="82.0,570.2 93.6,569.1 103.7,563.2 112.0,561.2 127.1,560.4 137.1,561.9 147.2,562.9 157.2,565.4 170.6,566.6 180.6,566.6 189.0,564.1 200.7,558.2 209.9,555.4 215.7,556.2 229.1,555.7 240.0,553.2 246.7,551.8 256.7,554.0 268.4,555.7 279.3,556.5 286.8,552.8 295.2,544.8 300.5,540.6 306.9,546.5 312.7,554.9 316.1,555.2 320.3,559.9 325.3,563.7 332.0,564.9 340.3,569.1 348.7,572.9 362.1,575.4 373.8,576.6 387.2,577.8 395.5,574.9 403.9,566.6 415.6,558.2 424.0,549.8 432.3,542.3 435.7,542.8 445.7,542.8 454.0,539.5 470.8,535.1 480.0,535.1 486.7,535.6 494.2,537.8 503.4,533.1 510.1,529.8 517.6,524.8 523.5,528.6 529.3,529.8 540.2,541.8 550.2,542.6 567.0,543.2 573.6,541.8 580.3,540.6 584.0,534.5 589.5,535.1 595.4,545.7 600.4,551.2 604.6,553.2 612.1,561.5 620.5,570.7 627.2,578.3 632.2,582.4 640.5,582.4 647.2,576.6 653.1,570.7 658.9,569.6 663.1,569.6 670.6,573.3 679.8,573.3 689.0,569.1 695.7,560.7 702.4,553.2 705.8,553.2 711.6,558.5 720.0,562.4 725.0,563.2 731.7,567.4 740.1,569.6 749.3,574.9 755.1,573.6 768.5,573.3 774.3,574.1 780.2,578.8 784.4,579.6 790.2,573.3 796.9,566.6 801.9,565.4 806.1,560.2 811.1,559.0 817.0,555.7 823.7,548.2 827.9,545.3 832.9,545.3 837.1,547.7 843.7,549.8 853.8,550.7 861.3,551.8 873.8,550.3 882.2,549.0 892.2,546.5 899.8,541.8 905.6,533.1 910.6,526.8 915.7,526.1 920.7,531.4 929.0,540.1 934.0,541.1 940.7,554.0 947.4,564.9 952.4,569.6 959.1,569.6 966.7,564.1 974.2,560.2 988.4,557.9 999.3,549.0 1004.8,547.8 1011.8,552.3 1020.2,559.0 1025.2,560.7 1030.2,559.9 1036.9,553.2 1042.8,543.2 1048.6,532.3 1053.6,528.9 1060.3,528.9 1065.4,532.3 1072.0,534.0 1078.7,542.3 1087.1,554.9 1093.8,560.2 1098.0,561.5 1108.8,569.9 1118.9,571.6 1128.1,577.8 1134.7,577.9 1142.3,583.3 1149.0,585.8 1156.5,591.6 1164.0,591.6 1169.9,585.8 1177.4,584.1 1185.8,584.1 1194.1,585.8 1200.8,581.3 1208.4,580.3 1215.1,570.7 1220.9,560.7 1226.8,549.0 1232.6,542.8 1239.3,541.8 1244.3,537.3 1250.2,532.3 1256.0,520.6 1260.2,515.6 1263.9,508.4 1270.2,509.4 1281.9,512.5 1290.3,517.7 1302.0,528.1 1308.7,528.9 1316.2,535.6 1321.2,545.7 1326.3,554.0 1330.4,563.2 1335.5,572.4 1342.1,580.8 1347.2,588.0 1353.0,588.8 1357.2,585.0 1363.0,571.6 1368.9,561.5 1374.7,552.8 1378.1,553.2 1383.9,556.5 1389.8,556.5 1394.8,544.8 1399.0,534.0 1404.8,532.3 1410.7,543.2 1419.9,556.5 1429.1,557.9 1436.0,563.0 1437.7,564.7 1439.8,571.4 1443.5,578.9 1449.0,578.9 1451.9,580.6 1454.4,585.6 1457.0,589.8" fill="none" stroke="#FF0000" stroke-width="2.2" stroke-linejoin="round" stroke-linecap="round"/>
</g>
<g shape-rendering="geometricPrecision" text-rendering="geometricPrecision">
<text x="3" y="32.8" font-size="11" fill="#000" stroke="#000" stroke-width="0.08" textLength="33.5" lengthAdjust="spacingAndGlyphs">90,000</text>
<text x="3" y="72.8" font-size="11" fill="#000" stroke="#000" stroke-width="0.08" textLength="33.5" lengthAdjust="spacingAndGlyphs">80,000</text>
<text x="3" y="113.8" font-size="11" fill="#000" stroke="#000" stroke-width="0.08" textLength="33.5" lengthAdjust="spacingAndGlyphs">70,000</text>
<text x="3" y="153.8" font-size="11" fill="#000" stroke="#000" stroke-width="0.08" textLength="33.5" lengthAdjust="spacingAndGlyphs">60,000</text>
<text x="3" y="194.8" font-size="11" fill="#000" stroke="#000" stroke-width="0.08" textLength="33.5" lengthAdjust="spacingAndGlyphs">50,000</text>
<text x="3" y="234.8" font-size="11" fill="#000" stroke="#000" stroke-width="0.08" textLength="33.5" lengthAdjust="spacingAndGlyphs">40,000</text>
<text x="3" y="275.8" font-size="11" fill="#000" stroke="#000" stroke-width="0.08" textLength="33.5" lengthAdjust="spacingAndGlyphs">30,000</text>
<text x="2.5" y="331" font-size="9.5" fill="#9AA6B4" textLength="32.5" lengthAdjust="spacingAndGlyphs">206,823</text>
<text x="2.5" y="360" font-size="9.5" fill="#9AA6B4" textLength="32.5" lengthAdjust="spacingAndGlyphs">103,412</text>
<text x="188.5" y="409.6" font-size="10.5" fill="#000" stroke="#000" stroke-width="0.1">Oct</text>
<text x="316.5" y="409.6" font-size="10.5" fill="#000" stroke="#000" stroke-width="0.1">Dec</text>
<text x="396.5" y="409.6" font-size="10.5" fill="#000" stroke="#000" stroke-width="0.1">2025</text>
<text x="541.5" y="409.6" font-size="10.5" fill="#000" stroke="#000" stroke-width="0.1">Mar</text>
<text x="687.5" y="409.6" font-size="10.5" fill="#000" stroke="#000" stroke-width="0.1">May</text>
<text x="826.5" y="409.6" font-size="10.5" fill="#000" stroke="#000" stroke-width="0.1">Jul</text>
<text x="975.5" y="409.6" font-size="10.5" fill="#000" stroke="#000" stroke-width="0.1">Sep</text>
<text x="1097.5" y="409.6" font-size="10.5" fill="#000" stroke="#000" stroke-width="0.1">Nov</text>
<text x="1249.5" y="409.6" font-size="10.5" fill="#000" stroke="#000" stroke-width="0.1">2026</text>
<text x="1392.5" y="409.6" font-size="10.5" fill="#000" stroke="#000" stroke-width="0.1">Mar</text>
<text x="4" y="443" font-size="9.5" fill="#000" stroke="#000" stroke-width="0.08" textLength="10" lengthAdjust="spacingAndGlyphs">70</text>
<text x="4" y="462.5" font-size="9.5" fill="#000" stroke="#000" stroke-width="0.08" textLength="10" lengthAdjust="spacingAndGlyphs">50</text>
<text x="4" y="485" font-size="9.5" fill="#000" stroke="#000" stroke-width="0.08" textLength="10" lengthAdjust="spacingAndGlyphs">30</text>
<text x="76.3" y="419.8" font-size="10" fill="#000" stroke="#000" stroke-width="0.08" textLength="71" lengthAdjust="spacingAndGlyphs">RSI 14/14 = 37.2</text>
<rect x="75" y="506" width="56" height="10" fill="#E4E4E4"/>
<text x="76.3" y="514" font-size="10" fill="#000" stroke="#000" stroke-width="0.08" textLength="53" lengthAdjust="spacingAndGlyphs">MACD 12/26</text>
<text x="3" y="514" font-size="10" fill="#000" stroke="#000" stroke-width="0.08" textLength="33" lengthAdjust="spacingAndGlyphs">5034.72</text>
<text x="3" y="569.2" font-size="10" fill="#000" stroke="#000" stroke-width="0.08" textLength="33" lengthAdjust="spacingAndGlyphs">macd=0</text>
<text x="2.8" y="594" font-size="10" fill="#000" stroke="#000" stroke-width="0.08" textLength="36.3" lengthAdjust="spacingAndGlyphs">-1804.94</text>
<text x="79.1" y="336.8" font-size="18.75" fill="#000" stroke="#000" stroke-width="0.2">Bursagraph.co.il |</text>
<text x="231.8" y="336.8" font-size="18.75" fill="#000" stroke="#000" stroke-width="0.2">1081561</text>
<text x="312.4" y="336.8" font-size="18.75" fill="#000" stroke="#000" stroke-width="0.2">|</text>
<text x="323.4" y="336.8" font-size="15.5" fill="#000" stroke="#000" stroke-width="0.2" textLength="67" lengthAdjust="spacingAndGlyphs" direction="rtl" unicode-bidi="bidi-override" text-anchor="end">&#x05D1;&#x05D9;&#x05EA; &#x05E9;&#x05DE;&#x05E9;</text>
<text x="1052.4" y="141" font-size="12" fill="#000018" stroke="#000018" stroke-width="0.3">&#x05E8;&#x05D5;&quot;&#x05DB;</text>
</g>
<rect x="0" y="0" width="1496" height="1" fill="#000"/>
<rect x="0" y="0" width="1" height="598" fill="#000"/>
<rect x="1495" y="0" width="1" height="598" fill="#000"/>
<rect x="0" y="597" width="1496" height="1" fill="#000"/>
</svg>
</body></html>
